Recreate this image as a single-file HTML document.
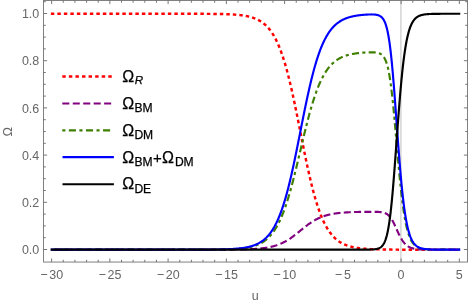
<!DOCTYPE html>
<html><head><meta charset="utf-8"><title>Omega plot</title>
<style>html,body{margin:0;padding:0;background:#fff;}body{width:469px;height:305px;overflow:hidden;position:relative;font-family:"Liberation Sans",sans-serif;}</style>
</head><body>
<svg width="469" height="305" viewBox="0 0 469 305" style="position:absolute;left:0;top:0;will-change:transform">
<line x1="400.9" x2="400.9" y1="0.5" y2="262.05" stroke="#cecece" stroke-width="1.3"/>
<g fill="none" stroke-width="2.15" stroke-linejoin="round">
<path d="M50.85,13.77 L51.99,13.77 L52.38,13.77 L52.77,13.77 L53.15,13.77 L53.54,13.77 L53.93,13.77 L54.32,13.77 L54.71,13.77 L55.10,13.77 L55.48,13.77 L55.87,13.77 L56.26,13.77 L56.65,13.77 L57.04,13.77 L57.43,13.77 L57.81,13.77 L58.20,13.77 L58.59,13.77 L58.98,13.77 L59.37,13.77 L59.75,13.77 L60.14,13.77 L60.53,13.77 L60.92,13.77 L61.31,13.77 L61.70,13.77 L62.08,13.77 L62.47,13.77 L62.86,13.77 L63.25,13.77 L63.64,13.77 L64.03,13.77 L64.42,13.77 L64.80,13.77 L65.19,13.77 L65.58,13.77 L65.97,13.77 L66.36,13.77 L66.75,13.77 L67.13,13.77 L67.52,13.77 L67.91,13.77 L68.30,13.77 L68.69,13.77 L69.08,13.77 L69.46,13.77 L69.85,13.77 L70.24,13.77 L70.63,13.77 L71.02,13.77 L71.41,13.77 L71.79,13.77 L72.18,13.77 L72.57,13.77 L72.96,13.77 L73.35,13.77 L73.73,13.77 L74.12,13.77 L74.51,13.77 L74.90,13.77 L75.29,13.77 L75.68,13.77 L76.07,13.77 L76.45,13.77 L76.84,13.77 L77.23,13.77 L77.62,13.77 L78.01,13.77 L78.40,13.77 L78.78,13.77 L79.17,13.77 L79.56,13.77 L79.95,13.77 L80.34,13.77 L80.72,13.77 L81.11,13.77 L81.50,13.77 L81.89,13.77 L82.28,13.77 L82.67,13.77 L83.05,13.77 L83.44,13.77 L83.83,13.77 L84.22,13.77 L84.61,13.77 L85.00,13.77 L85.38,13.77 L85.77,13.77 L86.16,13.77 L86.55,13.77 L86.94,13.77 L87.33,13.77 L87.72,13.77 L88.10,13.77 L88.49,13.77 L88.88,13.77 L89.27,13.77 L89.66,13.77 L90.05,13.77 L90.43,13.77 L90.82,13.77 L91.21,13.77 L91.60,13.77 L91.99,13.77 L92.38,13.77 L92.76,13.77 L93.15,13.77 L93.54,13.77 L93.93,13.77 L94.32,13.77 L94.70,13.77 L95.09,13.77 L95.48,13.77 L95.87,13.77 L96.26,13.77 L96.65,13.77 L97.03,13.77 L97.42,13.77 L97.81,13.77 L98.20,13.77 L98.59,13.77 L98.98,13.77 L99.37,13.77 L99.75,13.77 L100.14,13.77 L100.53,13.77 L100.92,13.77 L101.31,13.77 L101.70,13.77 L102.08,13.77 L102.47,13.77 L102.86,13.77 L103.25,13.77 L103.64,13.77 L104.03,13.77 L104.41,13.77 L104.80,13.77 L105.19,13.77 L105.58,13.77 L105.97,13.77 L106.35,13.77 L106.74,13.77 L107.13,13.77 L107.52,13.77 L107.91,13.77 L108.30,13.77 L108.68,13.77 L109.07,13.77 L109.46,13.77 L109.85,13.77 L110.24,13.77 L110.63,13.77 L111.02,13.77 L111.40,13.77 L111.79,13.77 L112.18,13.77 L112.57,13.77 L112.96,13.77 L113.35,13.77 L113.73,13.77 L114.12,13.77 L114.51,13.77 L114.90,13.77 L115.29,13.77 L115.68,13.77 L116.06,13.77 L116.45,13.77 L116.84,13.77 L117.23,13.77 L117.62,13.77 L118.00,13.77 L118.39,13.77 L118.78,13.77 L119.17,13.77 L119.56,13.77 L119.95,13.77 L120.33,13.77 L120.72,13.77 L121.11,13.77 L121.50,13.77 L121.89,13.77 L122.28,13.77 L122.67,13.77 L123.05,13.77 L123.44,13.77 L123.83,13.77 L124.22,13.77 L124.61,13.77 L125.00,13.77 L125.38,13.77 L125.77,13.77 L126.16,13.77 L126.55,13.77 L126.94,13.77 L127.33,13.77 L127.71,13.77 L128.10,13.77 L128.49,13.77 L128.88,13.77 L129.27,13.77 L129.66,13.77 L130.04,13.77 L130.43,13.77 L130.82,13.77 L131.21,13.77 L131.60,13.77 L131.98,13.77 L132.37,13.77 L132.76,13.77 L133.15,13.77 L133.54,13.77 L133.93,13.77 L134.32,13.77 L134.70,13.77 L135.09,13.77 L135.48,13.77 L135.87,13.77 L136.26,13.77 L136.65,13.77 L137.03,13.77 L137.42,13.77 L137.81,13.77 L138.20,13.77 L138.59,13.77 L138.97,13.77 L139.36,13.77 L139.75,13.77 L140.14,13.77 L140.53,13.77 L140.92,13.77 L141.31,13.77 L141.69,13.77 L142.08,13.77 L142.47,13.77 L142.86,13.77 L143.25,13.77 L143.63,13.77 L144.02,13.77 L144.41,13.77 L144.80,13.77 L145.19,13.77 L145.58,13.77 L145.97,13.77 L146.35,13.77 L146.74,13.77 L147.13,13.77 L147.52,13.77 L147.91,13.77 L148.30,13.77 L148.68,13.77 L149.07,13.77 L149.46,13.77 L149.85,13.77 L150.24,13.77 L150.62,13.77 L151.01,13.77 L151.40,13.77 L151.79,13.77 L152.18,13.77 L152.57,13.77 L152.95,13.77 L153.34,13.77 L153.73,13.77 L154.12,13.77 L154.51,13.77 L154.90,13.77 L155.28,13.77 L155.67,13.77 L156.06,13.77 L156.45,13.77 L156.84,13.77 L157.23,13.77 L157.62,13.77 L158.00,13.77 L158.39,13.77 L158.78,13.77 L159.17,13.77 L159.56,13.77 L159.95,13.77 L160.33,13.77 L160.72,13.77 L161.11,13.77 L161.50,13.77 L161.89,13.77 L162.28,13.77 L162.66,13.77 L163.05,13.77 L163.44,13.77 L163.83,13.77 L164.22,13.77 L164.60,13.77 L164.99,13.77 L165.38,13.77 L165.77,13.77 L166.16,13.77 L166.55,13.77 L166.94,13.77 L167.32,13.77 L167.71,13.77 L168.10,13.77 L168.49,13.77 L168.88,13.77 L169.27,13.77 L169.65,13.77 L170.04,13.77 L170.43,13.77 L170.82,13.77 L171.21,13.77 L171.60,13.77 L171.98,13.77 L172.37,13.77 L172.76,13.77 L173.15,13.77 L173.54,13.77 L173.93,13.77 L174.31,13.77 L174.70,13.77 L175.09,13.78 L175.48,13.78 L175.87,13.78 L176.25,13.78 L176.64,13.78 L177.03,13.78 L177.42,13.78 L177.81,13.78 L178.20,13.78 L178.58,13.78 L178.97,13.78 L179.36,13.78 L179.75,13.78 L180.14,13.78 L180.53,13.78 L180.92,13.78 L181.30,13.78 L181.69,13.78 L182.08,13.78 L182.47,13.78 L182.86,13.78 L183.25,13.78 L183.63,13.78 L184.02,13.78 L184.41,13.78 L184.80,13.78 L185.19,13.78 L185.57,13.78 L185.96,13.78 L186.35,13.78 L186.74,13.78 L187.13,13.78 L187.52,13.78 L187.91,13.79 L188.29,13.79 L188.68,13.79 L189.07,13.79 L189.46,13.79 L189.85,13.79 L190.23,13.79 L190.62,13.79 L191.01,13.79 L191.40,13.79 L191.79,13.79 L192.18,13.79 L192.57,13.79 L192.95,13.79 L193.34,13.79 L193.73,13.80 L194.12,13.80 L194.51,13.80 L194.90,13.80 L195.28,13.80 L195.67,13.80 L196.06,13.80 L196.45,13.80 L196.84,13.80 L197.22,13.80 L197.61,13.80 L198.00,13.81 L198.39,13.81 L198.78,13.81 L199.17,13.81 L199.55,13.81 L199.94,13.81 L200.33,13.81 L200.72,13.82 L201.11,13.82 L201.50,13.82 L201.88,13.82 L202.27,13.82 L202.66,13.82 L203.05,13.83 L203.44,13.83 L203.83,13.83 L204.22,13.83 L204.60,13.83 L204.99,13.84 L205.38,13.84 L205.77,13.84 L206.16,13.84 L206.54,13.85 L206.93,13.85 L207.32,13.85 L207.71,13.85 L208.10,13.86 L208.49,13.86 L208.88,13.86 L209.26,13.87 L209.65,13.87 L210.04,13.87 L210.43,13.88 L210.82,13.88 L211.20,13.88 L211.59,13.89 L211.98,13.89 L212.37,13.89 L212.76,13.90 L213.15,13.90 L213.53,13.91 L213.92,13.91 L214.31,13.92 L214.70,13.92 L215.09,13.93 L215.48,13.93 L215.87,13.94 L216.25,13.94 L216.64,13.95 L217.03,13.96 L217.42,13.96 L217.81,13.97 L218.19,13.97 L218.58,13.98 L218.97,13.99 L219.36,14.00 L219.75,14.00 L220.14,14.01 L220.53,14.02 L220.91,14.03 L221.30,14.04 L221.69,14.05 L222.08,14.06 L222.47,14.06 L222.85,14.07 L223.24,14.09 L223.63,14.10 L224.02,14.11 L224.41,14.12 L224.80,14.13 L225.19,14.14 L225.57,14.15 L225.96,14.17 L226.35,14.18 L226.74,14.20 L227.13,14.21 L227.51,14.22 L227.90,14.24 L228.29,14.26 L228.68,14.27 L229.07,14.29 L229.46,14.31 L229.84,14.32 L230.23,14.34 L230.62,14.36 L231.01,14.38 L231.40,14.40 L231.79,14.43 L232.18,14.45 L232.56,14.47 L232.95,14.49 L233.34,14.52 L233.73,14.54 L234.12,14.57 L234.50,14.60 L234.89,14.62 L235.28,14.65 L235.67,14.68 L236.06,14.71 L236.45,14.75 L236.84,14.78 L237.22,14.81 L237.61,14.85 L238.00,14.88 L238.39,14.92 L238.78,14.96 L239.17,15.00 L239.55,15.04 L239.94,15.09 L240.33,15.13 L240.72,15.18 L241.11,15.22 L241.50,15.27 L241.88,15.32 L242.27,15.38 L242.66,15.43 L243.05,15.49 L243.44,15.54 L243.82,15.60 L244.21,15.66 L244.60,15.73 L244.99,15.79 L245.38,15.86 L245.77,15.93 L246.16,16.00 L246.54,16.08 L246.93,16.16 L247.32,16.24 L247.71,16.32 L248.10,16.40 L248.48,16.49 L248.87,16.58 L249.26,16.68 L249.65,16.78 L250.04,16.88 L250.43,16.98 L250.82,17.09 L251.20,17.20 L251.59,17.31 L251.98,17.43 L252.37,17.55 L252.76,17.68 L253.15,17.81 L253.53,17.94 L253.92,18.08 L254.31,18.23 L254.70,18.37 L255.09,18.53 L255.47,18.69 L255.86,18.85 L256.25,19.02 L256.64,19.19 L257.03,19.37 L257.42,19.55 L257.81,19.75 L258.19,19.94 L258.58,20.15 L258.97,20.36 L259.36,20.57 L259.75,20.80 L260.13,21.03 L260.52,21.27 L260.91,21.51 L261.30,21.77 L261.69,22.03 L262.08,22.30 L262.47,22.58 L262.85,22.86 L263.24,23.16 L263.63,23.46 L264.02,23.78 L264.41,24.10 L264.80,24.44 L265.18,24.78 L265.57,25.14 L265.96,25.50 L266.35,25.88 L266.74,26.27 L267.12,26.67 L267.51,27.08 L267.90,27.51 L268.29,27.94 L268.68,28.40 L269.07,28.86 L269.45,29.34 L269.84,29.83 L270.23,30.33 L270.62,30.86 L271.01,31.39 L271.40,31.94 L271.79,32.51 L272.17,33.09 L272.56,33.69 L272.95,34.31 L273.34,34.94 L273.73,35.59 L274.12,36.26 L274.50,36.95 L274.89,37.66 L275.28,38.38 L275.67,39.13 L276.06,39.89 L276.45,40.67 L276.83,41.48 L277.22,42.31 L277.61,43.15 L278.00,44.02 L278.39,44.91 L278.78,45.82 L279.16,46.76 L279.55,47.71 L279.94,48.69 L280.33,49.70 L280.72,50.72 L281.11,51.78 L281.49,52.85 L281.88,53.95 L282.27,55.07 L282.66,56.22 L283.05,57.39 L283.44,58.59 L283.82,59.81 L284.21,61.06 L284.60,62.33 L284.99,63.63 L285.38,64.96 L285.77,66.30 L286.15,67.68 L286.54,69.08 L286.93,70.50 L287.32,71.95 L287.71,73.42 L288.10,74.92 L288.48,76.44 L288.87,77.99 L289.26,79.56 L289.65,81.15 L290.04,82.77 L290.43,84.41 L290.81,86.07 L291.20,87.75 L291.59,89.45 L291.98,91.18 L292.37,92.92 L292.75,94.68 L293.14,96.46 L293.53,98.26 L293.92,100.08 L294.31,101.91 L294.70,103.76 L295.08,105.62 L295.47,107.50 L295.86,109.39 L296.25,111.29 L296.64,113.20 L297.03,115.12 L297.42,117.05 L297.80,118.99 L298.19,120.94 L298.58,122.89 L298.97,124.85 L299.36,126.81 L299.75,128.77 L300.13,130.74 L300.52,132.70 L300.91,134.67 L301.30,136.63 L301.69,138.59 L302.07,140.55 L302.46,142.50 L302.85,144.45 L303.24,146.39 L303.63,148.32 L304.02,150.24 L304.41,152.15 L304.79,154.05 L305.18,155.94 L305.57,157.82 L305.96,159.68 L306.35,161.53 L306.74,163.36 L307.12,165.18 L307.51,166.98 L307.90,168.76 L308.29,170.52 L308.68,172.26 L309.07,173.99 L309.45,175.69 L309.84,177.37 L310.23,179.03 L310.62,180.67 L311.01,182.29 L311.40,183.88 L311.78,185.45 L312.17,187.00 L312.56,188.52 L312.95,190.02 L313.34,191.49 L313.73,192.94 L314.11,194.36 L314.50,195.76 L314.89,197.14 L315.28,198.48 L315.67,199.81 L316.06,201.11 L316.44,202.38 L316.83,203.63 L317.22,204.85 L317.61,206.05 L318.00,207.22 L318.38,208.37 L318.77,209.49 L319.16,210.59 L319.55,211.66 L319.94,212.72 L320.33,213.74 L320.72,214.75 L321.10,215.73 L321.49,216.68 L321.88,217.62 L322.27,218.53 L322.66,219.42 L323.05,220.29 L323.43,221.13 L323.82,221.96 L324.21,222.77 L324.60,223.55 L324.99,224.31 L325.38,225.06 L325.76,225.78 L326.15,226.49 L326.54,227.18 L326.93,227.85 L327.32,228.50 L327.71,229.13 L328.09,229.75 L328.48,230.35 L328.87,230.93 L329.26,231.50 L329.65,232.05 L330.04,232.58 L330.42,233.11 L330.81,233.61 L331.20,234.10 L331.59,234.58 L331.98,235.04 L332.37,235.50 L332.75,235.93 L333.14,236.36 L333.53,236.77 L333.92,237.17 L334.31,237.56 L334.70,237.94 L335.08,238.30 L335.47,238.66 L335.86,239.00 L336.25,239.34 L336.64,239.66 L337.03,239.98 L337.41,240.28 L337.80,240.58 L338.19,240.86 L338.58,241.14 L338.97,241.41 L339.36,241.67 L339.74,241.93 L340.13,242.17 L340.52,242.41 L340.91,242.64 L341.30,242.87 L341.69,243.08 L342.07,243.29 L342.46,243.50 L342.85,243.69 L343.24,243.89 L343.63,244.07 L344.02,244.25 L344.40,244.42 L344.79,244.59 L345.18,244.75 L345.57,244.91 L345.96,245.07 L346.35,245.21 L346.73,245.36 L347.12,245.50 L347.51,245.63 L347.90,245.76 L348.29,245.89 L348.68,246.01 L349.06,246.13 L349.45,246.24 L349.84,246.35 L350.23,246.46 L350.62,246.56 L351.00,246.66 L351.39,246.76 L351.78,246.86 L352.17,246.95 L352.56,247.04 L352.95,247.12 L353.34,247.20 L353.72,247.28 L354.11,247.36 L354.50,247.44 L354.89,247.51 L355.28,247.58 L355.67,247.65 L356.05,247.71 L356.44,247.78 L356.83,247.84 L357.22,247.90 L357.61,247.95 L358.00,248.01 L358.38,248.06 L358.77,248.12 L359.16,248.17 L359.55,248.22 L359.94,248.26 L360.33,248.31 L360.71,248.35 L361.10,248.40 L361.49,248.44 L361.88,248.48 L362.27,248.52 L362.66,248.56 L363.04,248.59 L363.43,248.63 L363.82,248.66 L364.21,248.69 L364.60,248.73 L364.99,248.76 L365.37,248.79 L365.76,248.82 L366.15,248.84 L366.54,248.87 L366.93,248.90 L367.31,248.92 L367.70,248.95 L368.09,248.97 L368.48,248.99 L368.87,249.01 L369.26,249.04 L369.65,249.06 L370.03,249.08 L370.42,249.10 L370.81,249.12 L371.20,249.13 L371.59,249.15 L371.98,249.17 L372.36,249.18 L372.75,249.20 L373.14,249.22 L373.53,249.23 L373.92,249.25 L374.31,249.26 L374.69,249.27 L375.08,249.29 L375.47,249.30 L375.86,249.31 L376.25,249.32 L376.63,249.33 L377.02,249.35 L377.41,249.36 L377.80,249.37 L378.19,249.38 L378.58,249.39 L378.97,249.40 L379.35,249.40 L379.74,249.41 L380.13,249.42 L380.52,249.43 L380.91,249.44 L381.30,249.45 L381.68,249.45 L382.07,249.46 L382.46,249.47 L382.85,249.48 L383.24,249.48 L383.63,249.49 L384.01,249.50 L384.40,249.50 L384.79,249.51 L385.18,249.51 L385.57,249.52 L385.96,249.53 L386.34,249.53 L386.73,249.54 L387.12,249.54 L387.51,249.55 L387.90,249.55 L388.29,249.56 L388.67,249.56 L389.06,249.57 L389.45,249.57 L389.84,249.58 L390.23,249.58 L390.62,249.58 L391.00,249.59 L391.39,249.59 L391.78,249.60 L392.17,249.60 L392.56,249.60 L392.95,249.61 L393.33,249.61 L393.72,249.62 L394.11,249.62 L394.50,249.62 L394.89,249.63 L395.28,249.63 L395.66,249.63 L396.05,249.63 L396.44,249.64 L396.83,249.64 L397.22,249.64 L397.61,249.64 L397.99,249.65 L398.38,249.65 L398.77,249.65 L399.16,249.65 L399.55,249.65 L399.94,249.65 L400.32,249.66 L400.71,249.66 L401.10,249.66 L401.49,249.66 L401.88,249.66 L402.26,249.66 L402.65,249.66 L403.04,249.66 L403.43,249.66 L403.82,249.66 L404.21,249.66 L404.60,249.66 L404.98,249.67 L405.37,249.67 L405.76,249.67 L406.15,249.67 L406.54,249.67 L406.93,249.67 L407.31,249.67 L407.70,249.67 L408.09,249.67 L408.48,249.67 L408.87,249.67 L409.26,249.67 L409.64,249.67 L410.03,249.67 L410.42,249.67 L410.81,249.67 L411.20,249.67 L411.59,249.67 L411.97,249.67 L412.36,249.67 L412.75,249.67 L413.14,249.67 L413.53,249.67 L413.92,249.67 L414.30,249.67 L414.69,249.67 L415.08,249.67 L415.47,249.67 L415.86,249.67 L416.25,249.67 L416.63,249.67 L417.02,249.67 L417.41,249.67 L417.80,249.67 L418.19,249.67 L418.58,249.67 L418.96,249.67 L419.35,249.67 L419.74,249.67 L420.13,249.67 L420.52,249.67 L420.91,249.67 L421.29,249.67 L421.68,249.67 L422.07,249.67 L422.46,249.67 L422.85,249.67 L423.24,249.67 L423.62,249.67 L424.01,249.67 L424.40,249.67 L424.79,249.67 L425.18,249.67 L425.57,249.67 L425.95,249.67 L426.34,249.67 L426.73,249.67 L427.12,249.67 L427.51,249.67 L427.89,249.67 L428.28,249.67 L428.67,249.67 L429.06,249.67 L429.45,249.67 L429.84,249.67 L430.23,249.67 L430.61,249.67 L431.00,249.67 L431.39,249.67 L431.78,249.67 L432.17,249.67 L432.56,249.67 L432.94,249.67 L433.33,249.67 L433.72,249.67 L434.11,249.67 L434.50,249.67 L434.88,249.67 L435.27,249.67 L435.66,249.67 L436.05,249.67 L436.44,249.67 L436.83,249.67 L437.22,249.67 L437.60,249.67 L437.99,249.67 L438.38,249.67 L438.77,249.67 L439.16,249.67 L439.55,249.67 L439.93,249.67 L440.32,249.67 L440.71,249.67 L441.10,249.67 L441.49,249.67 L441.88,249.67 L442.26,249.67 L442.65,249.67 L443.04,249.67 L443.43,249.67 L443.82,249.67 L444.21,249.67 L444.59,249.67 L444.98,249.67 L445.37,249.67 L445.76,249.67 L446.15,249.67 L446.54,249.67 L446.92,249.67 L447.31,249.67 L447.70,249.67 L448.09,249.67 L448.48,249.67 L448.87,249.67 L449.25,249.67 L449.64,249.67 L450.03,249.67 L450.42,249.67 L450.81,249.67 L451.19,249.67 L451.58,249.67 L451.97,249.67 L452.36,249.67 L452.75,249.67 L453.14,249.67 L453.53,249.67 L453.91,249.67 L454.30,249.67 L454.69,249.67 L455.08,249.67 L455.47,249.67 L455.86,249.67 L456.24,249.67 L456.63,249.67 L457.02,249.67 L457.41,249.67 L457.80,249.67 L458.19,249.67 L458.57,249.67 L458.96,249.67 L460.10,249.67" stroke="#ff0000" stroke-width="2.45" stroke-dasharray="3.45 3.05" stroke-dashoffset="0"/>
<path d="M51.10,249.67 L51.99,249.67 L52.38,249.67 L52.77,249.67 L53.15,249.67 L53.54,249.67 L53.93,249.67 L54.32,249.67 L54.71,249.67 L55.10,249.67 L55.48,249.67 L55.87,249.67 L56.26,249.67 L56.65,249.67 L57.04,249.67 L57.43,249.67 L57.81,249.67 L58.20,249.67 L58.59,249.67 L58.98,249.67 L59.37,249.67 L59.75,249.67 L60.14,249.67 L60.53,249.67 L60.92,249.67 L61.31,249.67 L61.70,249.67 L62.08,249.67 L62.47,249.67 L62.86,249.67 L63.25,249.67 L63.64,249.67 L64.03,249.67 L64.42,249.67 L64.80,249.67 L65.19,249.67 L65.58,249.67 L65.97,249.67 L66.36,249.67 L66.75,249.67 L67.13,249.67 L67.52,249.67 L67.91,249.67 L68.30,249.67 L68.69,249.67 L69.08,249.67 L69.46,249.67 L69.85,249.67 L70.24,249.67 L70.63,249.67 L71.02,249.67 L71.41,249.67 L71.79,249.67 L72.18,249.67 L72.57,249.67 L72.96,249.67 L73.35,249.67 L73.73,249.67 L74.12,249.67 L74.51,249.67 L74.90,249.67 L75.29,249.67 L75.68,249.67 L76.07,249.67 L76.45,249.67 L76.84,249.67 L77.23,249.67 L77.62,249.67 L78.01,249.67 L78.40,249.67 L78.78,249.67 L79.17,249.67 L79.56,249.67 L79.95,249.67 L80.34,249.67 L80.72,249.67 L81.11,249.67 L81.50,249.67 L81.89,249.67 L82.28,249.67 L82.67,249.67 L83.05,249.67 L83.44,249.67 L83.83,249.67 L84.22,249.67 L84.61,249.67 L85.00,249.67 L85.38,249.67 L85.77,249.67 L86.16,249.67 L86.55,249.67 L86.94,249.67 L87.33,249.67 L87.72,249.67 L88.10,249.67 L88.49,249.67 L88.88,249.67 L89.27,249.67 L89.66,249.67 L90.05,249.67 L90.43,249.67 L90.82,249.67 L91.21,249.67 L91.60,249.67 L91.99,249.67 L92.38,249.67 L92.76,249.67 L93.15,249.67 L93.54,249.67 L93.93,249.67 L94.32,249.67 L94.70,249.67 L95.09,249.67 L95.48,249.67 L95.87,249.67 L96.26,249.67 L96.65,249.67 L97.03,249.67 L97.42,249.67 L97.81,249.67 L98.20,249.67 L98.59,249.67 L98.98,249.67 L99.37,249.67 L99.75,249.67 L100.14,249.67 L100.53,249.67 L100.92,249.67 L101.31,249.67 L101.70,249.67 L102.08,249.67 L102.47,249.67 L102.86,249.67 L103.25,249.67 L103.64,249.67 L104.03,249.67 L104.41,249.67 L104.80,249.67 L105.19,249.67 L105.58,249.67 L105.97,249.67 L106.35,249.67 L106.74,249.67 L107.13,249.67 L107.52,249.67 L107.91,249.67 L108.30,249.67 L108.68,249.67 L109.07,249.67 L109.46,249.67 L109.85,249.67 L110.24,249.67 L110.63,249.67 L111.02,249.67 L111.40,249.67 L111.79,249.67 L112.18,249.67 L112.57,249.67 L112.96,249.67 L113.35,249.67 L113.73,249.67 L114.12,249.67 L114.51,249.67 L114.90,249.67 L115.29,249.67 L115.68,249.67 L116.06,249.67 L116.45,249.67 L116.84,249.67 L117.23,249.67 L117.62,249.67 L118.00,249.67 L118.39,249.67 L118.78,249.67 L119.17,249.67 L119.56,249.67 L119.95,249.67 L120.33,249.67 L120.72,249.67 L121.11,249.67 L121.50,249.67 L121.89,249.67 L122.28,249.67 L122.67,249.67 L123.05,249.67 L123.44,249.67 L123.83,249.67 L124.22,249.67 L124.61,249.67 L125.00,249.67 L125.38,249.67 L125.77,249.67 L126.16,249.67 L126.55,249.67 L126.94,249.67 L127.33,249.67 L127.71,249.67 L128.10,249.67 L128.49,249.67 L128.88,249.67 L129.27,249.67 L129.66,249.67 L130.04,249.67 L130.43,249.67 L130.82,249.67 L131.21,249.67 L131.60,249.67 L131.98,249.67 L132.37,249.67 L132.76,249.67 L133.15,249.67 L133.54,249.67 L133.93,249.67 L134.32,249.67 L134.70,249.67 L135.09,249.67 L135.48,249.67 L135.87,249.67 L136.26,249.67 L136.65,249.67 L137.03,249.67 L137.42,249.67 L137.81,249.67 L138.20,249.67 L138.59,249.67 L138.97,249.67 L139.36,249.67 L139.75,249.67 L140.14,249.67 L140.53,249.67 L140.92,249.67 L141.31,249.67 L141.69,249.67 L142.08,249.67 L142.47,249.67 L142.86,249.67 L143.25,249.67 L143.63,249.67 L144.02,249.67 L144.41,249.67 L144.80,249.67 L145.19,249.67 L145.58,249.67 L145.97,249.67 L146.35,249.67 L146.74,249.67 L147.13,249.67 L147.52,249.67 L147.91,249.67 L148.30,249.67 L148.68,249.67 L149.07,249.67 L149.46,249.67 L149.85,249.67 L150.24,249.67 L150.62,249.67 L151.01,249.67 L151.40,249.67 L151.79,249.67 L152.18,249.67 L152.57,249.67 L152.95,249.67 L153.34,249.67 L153.73,249.67 L154.12,249.67 L154.51,249.67 L154.90,249.67 L155.28,249.67 L155.67,249.67 L156.06,249.67 L156.45,249.67 L156.84,249.67 L157.23,249.67 L157.62,249.67 L158.00,249.67 L158.39,249.67 L158.78,249.67 L159.17,249.67 L159.56,249.67 L159.95,249.67 L160.33,249.67 L160.72,249.67 L161.11,249.67 L161.50,249.67 L161.89,249.67 L162.28,249.67 L162.66,249.67 L163.05,249.67 L163.44,249.67 L163.83,249.67 L164.22,249.67 L164.60,249.67 L164.99,249.67 L165.38,249.67 L165.77,249.67 L166.16,249.67 L166.55,249.67 L166.94,249.67 L167.32,249.67 L167.71,249.67 L168.10,249.67 L168.49,249.67 L168.88,249.67 L169.27,249.67 L169.65,249.67 L170.04,249.67 L170.43,249.67 L170.82,249.67 L171.21,249.67 L171.60,249.67 L171.98,249.67 L172.37,249.67 L172.76,249.67 L173.15,249.67 L173.54,249.67 L173.93,249.67 L174.31,249.67 L174.70,249.67 L175.09,249.67 L175.48,249.67 L175.87,249.67 L176.25,249.67 L176.64,249.67 L177.03,249.67 L177.42,249.67 L177.81,249.67 L178.20,249.67 L178.58,249.67 L178.97,249.67 L179.36,249.67 L179.75,249.67 L180.14,249.67 L180.53,249.67 L180.92,249.67 L181.30,249.67 L181.69,249.67 L182.08,249.67 L182.47,249.67 L182.86,249.67 L183.25,249.67 L183.63,249.67 L184.02,249.67 L184.41,249.67 L184.80,249.67 L185.19,249.67 L185.57,249.67 L185.96,249.67 L186.35,249.67 L186.74,249.67 L187.13,249.67 L187.52,249.67 L187.91,249.67 L188.29,249.67 L188.68,249.67 L189.07,249.67 L189.46,249.67 L189.85,249.67 L190.23,249.67 L190.62,249.67 L191.01,249.67 L191.40,249.67 L191.79,249.67 L192.18,249.67 L192.57,249.67 L192.95,249.67 L193.34,249.67 L193.73,249.67 L194.12,249.67 L194.51,249.67 L194.90,249.67 L195.28,249.67 L195.67,249.67 L196.06,249.67 L196.45,249.66 L196.84,249.66 L197.22,249.66 L197.61,249.66 L198.00,249.66 L198.39,249.66 L198.78,249.66 L199.17,249.66 L199.55,249.66 L199.94,249.66 L200.33,249.66 L200.72,249.66 L201.11,249.66 L201.50,249.66 L201.88,249.66 L202.27,249.66 L202.66,249.66 L203.05,249.66 L203.44,249.66 L203.83,249.66 L204.22,249.66 L204.60,249.66 L204.99,249.66 L205.38,249.66 L205.77,249.66 L206.16,249.66 L206.54,249.66 L206.93,249.66 L207.32,249.66 L207.71,249.66 L208.10,249.66 L208.49,249.66 L208.88,249.66 L209.26,249.65 L209.65,249.65 L210.04,249.65 L210.43,249.65 L210.82,249.65 L211.20,249.65 L211.59,249.65 L211.98,249.65 L212.37,249.65 L212.76,249.65 L213.15,249.65 L213.53,249.65 L213.92,249.65 L214.31,249.65 L214.70,249.65 L215.09,249.64 L215.48,249.64 L215.87,249.64 L216.25,249.64 L216.64,249.64 L217.03,249.64 L217.42,249.64 L217.81,249.64 L218.19,249.64 L218.58,249.64 L218.97,249.63 L219.36,249.63 L219.75,249.63 L220.14,249.63 L220.53,249.63 L220.91,249.63 L221.30,249.63 L221.69,249.63 L222.08,249.62 L222.47,249.62 L222.85,249.62 L223.24,249.62 L223.63,249.62 L224.02,249.62 L224.41,249.61 L224.80,249.61 L225.19,249.61 L225.57,249.61 L225.96,249.61 L226.35,249.60 L226.74,249.60 L227.13,249.60 L227.51,249.60 L227.90,249.59 L228.29,249.59 L228.68,249.59 L229.07,249.59 L229.46,249.58 L229.84,249.58 L230.23,249.58 L230.62,249.57 L231.01,249.57 L231.40,249.57 L231.79,249.56 L232.18,249.56 L232.56,249.56 L232.95,249.55 L233.34,249.55 L233.73,249.55 L234.12,249.54 L234.50,249.54 L234.89,249.53 L235.28,249.53 L235.67,249.52 L236.06,249.52 L236.45,249.51 L236.84,249.51 L237.22,249.50 L237.61,249.50 L238.00,249.49 L238.39,249.48 L238.78,249.48 L239.17,249.47 L239.55,249.47 L239.94,249.46 L240.33,249.45 L240.72,249.44 L241.11,249.44 L241.50,249.43 L241.88,249.42 L242.27,249.41 L242.66,249.40 L243.05,249.39 L243.44,249.38 L243.82,249.37 L244.21,249.37 L244.60,249.35 L244.99,249.34 L245.38,249.33 L245.77,249.32 L246.16,249.31 L246.54,249.30 L246.93,249.29 L247.32,249.27 L247.71,249.26 L248.10,249.25 L248.48,249.23 L248.87,249.22 L249.26,249.20 L249.65,249.19 L250.04,249.17 L250.43,249.15 L250.82,249.14 L251.20,249.12 L251.59,249.10 L251.98,249.08 L252.37,249.06 L252.76,249.04 L253.15,249.02 L253.53,249.00 L253.92,248.98 L254.31,248.95 L254.70,248.93 L255.09,248.90 L255.47,248.88 L255.86,248.85 L256.25,248.83 L256.64,248.80 L257.03,248.77 L257.42,248.74 L257.81,248.71 L258.19,248.68 L258.58,248.64 L258.97,248.61 L259.36,248.57 L259.75,248.54 L260.13,248.50 L260.52,248.46 L260.91,248.42 L261.30,248.38 L261.69,248.34 L262.08,248.30 L262.47,248.25 L262.85,248.21 L263.24,248.16 L263.63,248.11 L264.02,248.06 L264.41,248.01 L264.80,247.95 L265.18,247.90 L265.57,247.84 L265.96,247.78 L266.35,247.72 L266.74,247.66 L267.12,247.59 L267.51,247.53 L267.90,247.46 L268.29,247.39 L268.68,247.32 L269.07,247.24 L269.45,247.16 L269.84,247.08 L270.23,247.00 L270.62,246.92 L271.01,246.83 L271.40,246.74 L271.79,246.65 L272.17,246.56 L272.56,246.46 L272.95,246.36 L273.34,246.26 L273.73,246.16 L274.12,246.05 L274.50,245.94 L274.89,245.82 L275.28,245.71 L275.67,245.59 L276.06,245.46 L276.45,245.34 L276.83,245.21 L277.22,245.08 L277.61,244.94 L278.00,244.80 L278.39,244.66 L278.78,244.51 L279.16,244.36 L279.55,244.20 L279.94,244.05 L280.33,243.89 L280.72,243.72 L281.11,243.55 L281.49,243.38 L281.88,243.20 L282.27,243.02 L282.66,242.84 L283.05,242.65 L283.44,242.45 L283.82,242.26 L284.21,242.06 L284.60,241.85 L284.99,241.64 L285.38,241.43 L285.77,241.21 L286.15,240.99 L286.54,240.77 L286.93,240.54 L287.32,240.30 L287.71,240.07 L288.10,239.82 L288.48,239.58 L288.87,239.33 L289.26,239.08 L289.65,238.82 L290.04,238.56 L290.43,238.30 L290.81,238.03 L291.20,237.76 L291.59,237.49 L291.98,237.21 L292.37,236.93 L292.75,236.64 L293.14,236.36 L293.53,236.07 L293.92,235.77 L294.31,235.48 L294.70,235.18 L295.08,234.88 L295.47,234.58 L295.86,234.28 L296.25,233.97 L296.64,233.66 L297.03,233.35 L297.42,233.04 L297.80,232.73 L298.19,232.42 L298.58,232.10 L298.97,231.79 L299.36,231.47 L299.75,231.15 L300.13,230.84 L300.52,230.52 L300.91,230.21 L301.30,229.89 L301.69,229.57 L302.07,229.26 L302.46,228.94 L302.85,228.63 L303.24,228.32 L303.63,228.01 L304.02,227.70 L304.41,227.39 L304.79,227.08 L305.18,226.78 L305.57,226.48 L305.96,226.18 L306.35,225.88 L306.74,225.59 L307.12,225.29 L307.51,225.00 L307.90,224.72 L308.29,224.43 L308.68,224.15 L309.07,223.87 L309.45,223.60 L309.84,223.33 L310.23,223.06 L310.62,222.80 L311.01,222.54 L311.40,222.28 L311.78,222.03 L312.17,221.78 L312.56,221.54 L312.95,221.29 L313.34,221.06 L313.73,220.82 L314.11,220.59 L314.50,220.37 L314.89,220.15 L315.28,219.93 L315.67,219.72 L316.06,219.51 L316.44,219.30 L316.83,219.10 L317.22,218.91 L317.61,218.71 L318.00,218.52 L318.38,218.34 L318.77,218.16 L319.16,217.98 L319.55,217.81 L319.94,217.64 L320.33,217.47 L320.72,217.31 L321.10,217.16 L321.49,217.00 L321.88,216.85 L322.27,216.70 L322.66,216.56 L323.05,216.42 L323.43,216.28 L323.82,216.15 L324.21,216.02 L324.60,215.90 L324.99,215.77 L325.38,215.65 L325.76,215.54 L326.15,215.42 L326.54,215.31 L326.93,215.20 L327.32,215.10 L327.71,215.00 L328.09,214.90 L328.48,214.80 L328.87,214.71 L329.26,214.62 L329.65,214.53 L330.04,214.44 L330.42,214.36 L330.81,214.28 L331.20,214.20 L331.59,214.12 L331.98,214.04 L332.37,213.97 L332.75,213.90 L333.14,213.83 L333.53,213.77 L333.92,213.70 L334.31,213.64 L334.70,213.58 L335.08,213.52 L335.47,213.46 L335.86,213.41 L336.25,213.35 L336.64,213.30 L337.03,213.25 L337.41,213.20 L337.80,213.15 L338.19,213.11 L338.58,213.06 L338.97,213.02 L339.36,212.98 L339.74,212.94 L340.13,212.90 L340.52,212.86 L340.91,212.82 L341.30,212.79 L341.69,212.75 L342.07,212.72 L342.46,212.68 L342.85,212.65 L343.24,212.62 L343.63,212.59 L344.02,212.56 L344.40,212.53 L344.79,212.51 L345.18,212.48 L345.57,212.46 L345.96,212.43 L346.35,212.41 L346.73,212.38 L347.12,212.36 L347.51,212.34 L347.90,212.32 L348.29,212.30 L348.68,212.28 L349.06,212.26 L349.45,212.24 L349.84,212.22 L350.23,212.21 L350.62,212.19 L351.00,212.17 L351.39,212.16 L351.78,212.14 L352.17,212.13 L352.56,212.11 L352.95,212.10 L353.34,212.09 L353.72,212.07 L354.11,212.06 L354.50,212.05 L354.89,212.04 L355.28,212.03 L355.67,212.02 L356.05,212.01 L356.44,212.00 L356.83,211.99 L357.22,211.98 L357.61,211.97 L358.00,211.96 L358.38,211.95 L358.77,211.94 L359.16,211.93 L359.55,211.92 L359.94,211.92 L360.33,211.91 L360.71,211.90 L361.10,211.90 L361.49,211.89 L361.88,211.88 L362.27,211.88 L362.66,211.87 L363.04,211.87 L363.43,211.86 L363.82,211.85 L364.21,211.85 L364.60,211.85 L364.99,211.84 L365.37,211.84 L365.76,211.83 L366.15,211.83 L366.54,211.82 L366.93,211.82 L367.31,211.82 L367.70,211.81 L368.09,211.81 L368.48,211.81 L368.87,211.81 L369.26,211.80 L369.65,211.80 L370.03,211.80 L370.42,211.80 L370.81,211.80 L371.20,211.80 L371.59,211.80 L371.98,211.80 L372.36,211.80 L372.75,211.80 L373.14,211.80 L373.53,211.81 L373.92,211.81 L374.31,211.81 L374.69,211.82 L375.08,211.82 L375.47,211.83 L375.86,211.84 L376.25,211.85 L376.63,211.86 L377.02,211.87 L377.41,211.89 L377.80,211.90 L378.19,211.92 L378.58,211.94 L378.97,211.97 L379.35,211.99 L379.74,212.03 L380.13,212.06 L380.52,212.10 L380.91,212.14 L381.30,212.19 L381.68,212.25 L382.07,212.31 L382.46,212.38 L382.85,212.46 L383.24,212.55 L383.63,212.65 L384.01,212.76 L384.40,212.88 L384.79,213.02 L385.18,213.17 L385.57,213.34 L385.96,213.52 L386.34,213.73 L386.73,213.96 L387.12,214.21 L387.51,214.48 L387.90,214.78 L388.29,215.11 L388.67,215.46 L389.06,215.85 L389.45,216.27 L389.84,216.72 L390.23,217.21 L390.62,217.72 L391.00,218.28 L391.39,218.86 L391.78,219.48 L392.17,220.14 L392.56,220.82 L392.95,221.54 L393.33,222.28 L393.72,223.05 L394.11,223.84 L394.50,224.65 L394.89,225.47 L395.28,226.31 L395.66,227.16 L396.05,228.02 L396.44,228.88 L396.83,229.74 L397.22,230.60 L397.61,231.45 L397.99,232.29 L398.38,233.12 L398.77,233.93 L399.16,234.73 L399.55,235.51 L399.94,236.26 L400.32,237.00 L400.71,237.71 L401.10,238.40 L401.49,239.06 L401.88,239.69 L402.26,240.30 L402.65,240.88 L403.04,241.43 L403.43,241.96 L403.82,242.45 L404.21,242.93 L404.60,243.38 L404.98,243.80 L405.37,244.20 L405.76,244.57 L406.15,244.93 L406.54,245.26 L406.93,245.57 L407.31,245.86 L407.70,246.13 L408.09,246.39 L408.48,246.63 L408.87,246.85 L409.26,247.06 L409.64,247.25 L410.03,247.43 L410.42,247.59 L410.81,247.75 L411.20,247.89 L411.59,248.03 L411.97,248.15 L412.36,248.27 L412.75,248.37 L413.14,248.47 L413.53,248.56 L413.92,248.65 L414.30,248.73 L414.69,248.80 L415.08,248.86 L415.47,248.93 L415.86,248.98 L416.25,249.04 L416.63,249.09 L417.02,249.13 L417.41,249.17 L417.80,249.21 L418.19,249.25 L418.58,249.28 L418.96,249.31 L419.35,249.34 L419.74,249.36 L420.13,249.39 L420.52,249.41 L420.91,249.43 L421.29,249.45 L421.68,249.47 L422.07,249.48 L422.46,249.50 L422.85,249.51 L423.24,249.52 L423.62,249.53 L424.01,249.54 L424.40,249.55 L424.79,249.56 L425.18,249.57 L425.57,249.58 L425.95,249.59 L426.34,249.59 L426.73,249.60 L427.12,249.60 L427.51,249.61 L427.89,249.61 L428.28,249.62 L428.67,249.62 L429.06,249.63 L429.45,249.63 L429.84,249.63 L430.23,249.64 L430.61,249.64 L431.00,249.64 L431.39,249.64 L431.78,249.65 L432.17,249.65 L432.56,249.65 L432.94,249.65 L433.33,249.65 L433.72,249.65 L434.11,249.65 L434.50,249.66 L434.88,249.66 L435.27,249.66 L435.66,249.66 L436.05,249.66 L436.44,249.66 L436.83,249.66 L437.22,249.66 L437.60,249.66 L437.99,249.66 L438.38,249.66 L438.77,249.66 L439.16,249.66 L439.55,249.67 L439.93,249.67 L440.32,249.67 L440.71,249.67 L441.10,249.67 L441.49,249.67 L441.88,249.67 L442.26,249.67 L442.65,249.67 L443.04,249.67 L443.43,249.67 L443.82,249.67 L444.21,249.67 L444.59,249.67 L444.98,249.67 L445.37,249.67 L445.76,249.67 L446.15,249.67 L446.54,249.67 L446.92,249.67 L447.31,249.67 L447.70,249.67 L448.09,249.67 L448.48,249.67 L448.87,249.67 L449.25,249.67 L449.64,249.67 L450.03,249.67 L450.42,249.67 L450.81,249.67 L451.19,249.67 L451.58,249.67 L451.97,249.67 L452.36,249.67 L452.75,249.67 L453.14,249.67 L453.53,249.67 L453.91,249.67 L454.30,249.67 L454.69,249.67 L455.08,249.67 L455.47,249.67 L455.86,249.67 L456.24,249.67 L456.63,249.67 L457.02,249.67 L457.41,249.67 L457.80,249.67 L458.19,249.67 L458.57,249.67 L458.96,249.67 L459.85,249.67" stroke="#800080" stroke-dasharray="7.0 3.3" stroke-dashoffset="6.96"/>
<path d="M51.10,249.67 L51.99,249.67 L52.38,249.67 L52.77,249.67 L53.15,249.67 L53.54,249.67 L53.93,249.67 L54.32,249.67 L54.71,249.67 L55.10,249.67 L55.48,249.67 L55.87,249.67 L56.26,249.67 L56.65,249.67 L57.04,249.67 L57.43,249.67 L57.81,249.67 L58.20,249.67 L58.59,249.67 L58.98,249.67 L59.37,249.67 L59.75,249.67 L60.14,249.67 L60.53,249.67 L60.92,249.67 L61.31,249.67 L61.70,249.67 L62.08,249.67 L62.47,249.67 L62.86,249.67 L63.25,249.67 L63.64,249.67 L64.03,249.67 L64.42,249.67 L64.80,249.67 L65.19,249.67 L65.58,249.67 L65.97,249.67 L66.36,249.67 L66.75,249.67 L67.13,249.67 L67.52,249.67 L67.91,249.67 L68.30,249.67 L68.69,249.67 L69.08,249.67 L69.46,249.67 L69.85,249.67 L70.24,249.67 L70.63,249.67 L71.02,249.67 L71.41,249.67 L71.79,249.67 L72.18,249.67 L72.57,249.67 L72.96,249.67 L73.35,249.67 L73.73,249.67 L74.12,249.67 L74.51,249.67 L74.90,249.67 L75.29,249.67 L75.68,249.67 L76.07,249.67 L76.45,249.67 L76.84,249.67 L77.23,249.67 L77.62,249.67 L78.01,249.67 L78.40,249.67 L78.78,249.67 L79.17,249.67 L79.56,249.67 L79.95,249.67 L80.34,249.67 L80.72,249.67 L81.11,249.67 L81.50,249.67 L81.89,249.67 L82.28,249.67 L82.67,249.67 L83.05,249.67 L83.44,249.67 L83.83,249.67 L84.22,249.67 L84.61,249.67 L85.00,249.67 L85.38,249.67 L85.77,249.67 L86.16,249.67 L86.55,249.67 L86.94,249.67 L87.33,249.67 L87.72,249.67 L88.10,249.67 L88.49,249.67 L88.88,249.67 L89.27,249.67 L89.66,249.67 L90.05,249.67 L90.43,249.67 L90.82,249.67 L91.21,249.67 L91.60,249.67 L91.99,249.67 L92.38,249.67 L92.76,249.67 L93.15,249.67 L93.54,249.67 L93.93,249.67 L94.32,249.67 L94.70,249.67 L95.09,249.67 L95.48,249.67 L95.87,249.67 L96.26,249.67 L96.65,249.67 L97.03,249.67 L97.42,249.67 L97.81,249.67 L98.20,249.67 L98.59,249.67 L98.98,249.67 L99.37,249.67 L99.75,249.67 L100.14,249.67 L100.53,249.67 L100.92,249.67 L101.31,249.67 L101.70,249.67 L102.08,249.67 L102.47,249.67 L102.86,249.67 L103.25,249.67 L103.64,249.67 L104.03,249.67 L104.41,249.67 L104.80,249.67 L105.19,249.67 L105.58,249.67 L105.97,249.67 L106.35,249.67 L106.74,249.67 L107.13,249.67 L107.52,249.67 L107.91,249.67 L108.30,249.67 L108.68,249.67 L109.07,249.67 L109.46,249.67 L109.85,249.67 L110.24,249.67 L110.63,249.67 L111.02,249.67 L111.40,249.67 L111.79,249.67 L112.18,249.67 L112.57,249.67 L112.96,249.67 L113.35,249.67 L113.73,249.67 L114.12,249.67 L114.51,249.67 L114.90,249.67 L115.29,249.67 L115.68,249.67 L116.06,249.67 L116.45,249.67 L116.84,249.67 L117.23,249.67 L117.62,249.67 L118.00,249.67 L118.39,249.67 L118.78,249.67 L119.17,249.67 L119.56,249.67 L119.95,249.67 L120.33,249.67 L120.72,249.67 L121.11,249.67 L121.50,249.67 L121.89,249.67 L122.28,249.67 L122.67,249.67 L123.05,249.67 L123.44,249.67 L123.83,249.67 L124.22,249.67 L124.61,249.67 L125.00,249.67 L125.38,249.67 L125.77,249.67 L126.16,249.67 L126.55,249.67 L126.94,249.67 L127.33,249.67 L127.71,249.67 L128.10,249.67 L128.49,249.67 L128.88,249.67 L129.27,249.67 L129.66,249.67 L130.04,249.67 L130.43,249.67 L130.82,249.67 L131.21,249.67 L131.60,249.67 L131.98,249.67 L132.37,249.67 L132.76,249.67 L133.15,249.67 L133.54,249.67 L133.93,249.67 L134.32,249.67 L134.70,249.67 L135.09,249.67 L135.48,249.67 L135.87,249.67 L136.26,249.67 L136.65,249.67 L137.03,249.67 L137.42,249.67 L137.81,249.67 L138.20,249.67 L138.59,249.67 L138.97,249.67 L139.36,249.67 L139.75,249.67 L140.14,249.67 L140.53,249.67 L140.92,249.67 L141.31,249.67 L141.69,249.67 L142.08,249.67 L142.47,249.67 L142.86,249.67 L143.25,249.67 L143.63,249.67 L144.02,249.67 L144.41,249.67 L144.80,249.67 L145.19,249.67 L145.58,249.67 L145.97,249.67 L146.35,249.67 L146.74,249.67 L147.13,249.67 L147.52,249.67 L147.91,249.67 L148.30,249.67 L148.68,249.67 L149.07,249.67 L149.46,249.67 L149.85,249.67 L150.24,249.67 L150.62,249.67 L151.01,249.67 L151.40,249.67 L151.79,249.67 L152.18,249.67 L152.57,249.67 L152.95,249.67 L153.34,249.67 L153.73,249.67 L154.12,249.67 L154.51,249.67 L154.90,249.67 L155.28,249.67 L155.67,249.67 L156.06,249.67 L156.45,249.67 L156.84,249.67 L157.23,249.67 L157.62,249.67 L158.00,249.67 L158.39,249.67 L158.78,249.67 L159.17,249.67 L159.56,249.67 L159.95,249.67 L160.33,249.67 L160.72,249.67 L161.11,249.67 L161.50,249.67 L161.89,249.67 L162.28,249.67 L162.66,249.67 L163.05,249.67 L163.44,249.67 L163.83,249.67 L164.22,249.67 L164.60,249.67 L164.99,249.67 L165.38,249.67 L165.77,249.67 L166.16,249.67 L166.55,249.67 L166.94,249.67 L167.32,249.67 L167.71,249.67 L168.10,249.67 L168.49,249.67 L168.88,249.67 L169.27,249.67 L169.65,249.67 L170.04,249.67 L170.43,249.67 L170.82,249.67 L171.21,249.67 L171.60,249.67 L171.98,249.67 L172.37,249.67 L172.76,249.67 L173.15,249.67 L173.54,249.67 L173.93,249.67 L174.31,249.67 L174.70,249.67 L175.09,249.67 L175.48,249.67 L175.87,249.67 L176.25,249.67 L176.64,249.67 L177.03,249.66 L177.42,249.66 L177.81,249.66 L178.20,249.66 L178.58,249.66 L178.97,249.66 L179.36,249.66 L179.75,249.66 L180.14,249.66 L180.53,249.66 L180.92,249.66 L181.30,249.66 L181.69,249.66 L182.08,249.66 L182.47,249.66 L182.86,249.66 L183.25,249.66 L183.63,249.66 L184.02,249.66 L184.41,249.66 L184.80,249.66 L185.19,249.66 L185.57,249.66 L185.96,249.66 L186.35,249.66 L186.74,249.66 L187.13,249.66 L187.52,249.66 L187.91,249.66 L188.29,249.66 L188.68,249.66 L189.07,249.66 L189.46,249.66 L189.85,249.65 L190.23,249.65 L190.62,249.65 L191.01,249.65 L191.40,249.65 L191.79,249.65 L192.18,249.65 L192.57,249.65 L192.95,249.65 L193.34,249.65 L193.73,249.65 L194.12,249.65 L194.51,249.65 L194.90,249.65 L195.28,249.65 L195.67,249.65 L196.06,249.64 L196.45,249.64 L196.84,249.64 L197.22,249.64 L197.61,249.64 L198.00,249.64 L198.39,249.64 L198.78,249.64 L199.17,249.64 L199.55,249.64 L199.94,249.63 L200.33,249.63 L200.72,249.63 L201.11,249.63 L201.50,249.63 L201.88,249.63 L202.27,249.63 L202.66,249.62 L203.05,249.62 L203.44,249.62 L203.83,249.62 L204.22,249.62 L204.60,249.62 L204.99,249.61 L205.38,249.61 L205.77,249.61 L206.16,249.61 L206.54,249.61 L206.93,249.60 L207.32,249.60 L207.71,249.60 L208.10,249.60 L208.49,249.60 L208.88,249.59 L209.26,249.59 L209.65,249.59 L210.04,249.58 L210.43,249.58 L210.82,249.58 L211.20,249.58 L211.59,249.57 L211.98,249.57 L212.37,249.57 L212.76,249.56 L213.15,249.56 L213.53,249.55 L213.92,249.55 L214.31,249.55 L214.70,249.54 L215.09,249.54 L215.48,249.53 L215.87,249.53 L216.25,249.52 L216.64,249.52 L217.03,249.51 L217.42,249.51 L217.81,249.50 L218.19,249.50 L218.58,249.49 L218.97,249.49 L219.36,249.48 L219.75,249.47 L220.14,249.47 L220.53,249.46 L220.91,249.45 L221.30,249.45 L221.69,249.44 L222.08,249.43 L222.47,249.42 L222.85,249.41 L223.24,249.41 L223.63,249.40 L224.02,249.39 L224.41,249.38 L224.80,249.37 L225.19,249.36 L225.57,249.35 L225.96,249.34 L226.35,249.32 L226.74,249.31 L227.13,249.30 L227.51,249.29 L227.90,249.28 L228.29,249.26 L228.68,249.25 L229.07,249.23 L229.46,249.22 L229.84,249.20 L230.23,249.19 L230.62,249.17 L231.01,249.16 L231.40,249.14 L231.79,249.12 L232.18,249.10 L232.56,249.08 L232.95,249.06 L233.34,249.04 L233.73,249.02 L234.12,249.00 L234.50,248.98 L234.89,248.95 L235.28,248.93 L235.67,248.90 L236.06,248.88 L236.45,248.85 L236.84,248.82 L237.22,248.79 L237.61,248.77 L238.00,248.73 L238.39,248.70 L238.78,248.67 L239.17,248.64 L239.55,248.60 L239.94,248.57 L240.33,248.53 L240.72,248.49 L241.11,248.45 L241.50,248.41 L241.88,248.37 L242.27,248.32 L242.66,248.28 L243.05,248.23 L243.44,248.18 L243.82,248.13 L244.21,248.08 L244.60,248.03 L244.99,247.97 L245.38,247.92 L245.77,247.86 L246.16,247.80 L246.54,247.73 L246.93,247.67 L247.32,247.60 L247.71,247.53 L248.10,247.46 L248.48,247.39 L248.87,247.31 L249.26,247.23 L249.65,247.15 L250.04,247.06 L250.43,246.98 L250.82,246.89 L251.20,246.79 L251.59,246.70 L251.98,246.60 L252.37,246.50 L252.76,246.39 L253.15,246.28 L253.53,246.17 L253.92,246.05 L254.31,245.93 L254.70,245.81 L255.09,245.68 L255.47,245.55 L255.86,245.41 L256.25,245.27 L256.64,245.12 L257.03,244.97 L257.42,244.82 L257.81,244.66 L258.19,244.49 L258.58,244.32 L258.97,244.14 L259.36,243.96 L259.75,243.77 L260.13,243.58 L260.52,243.38 L260.91,243.17 L261.30,242.96 L261.69,242.74 L262.08,242.52 L262.47,242.28 L262.85,242.04 L263.24,241.79 L263.63,241.54 L264.02,241.27 L264.41,241.00 L264.80,240.72 L265.18,240.43 L265.57,240.13 L265.96,239.83 L266.35,239.51 L266.74,239.18 L267.12,238.85 L267.51,238.50 L267.90,238.14 L268.29,237.78 L268.68,237.40 L269.07,237.01 L269.45,236.61 L269.84,236.20 L270.23,235.77 L270.62,235.34 L271.01,234.89 L271.40,234.42 L271.79,233.95 L272.17,233.46 L272.56,232.96 L272.95,232.44 L273.34,231.91 L273.73,231.36 L274.12,230.80 L274.50,230.22 L274.89,229.63 L275.28,229.02 L275.67,228.40 L276.06,227.75 L276.45,227.10 L276.83,226.42 L277.22,225.73 L277.61,225.02 L278.00,224.29 L278.39,223.54 L278.78,222.78 L279.16,221.99 L279.55,221.19 L279.94,220.37 L280.33,219.53 L280.72,218.66 L281.11,217.78 L281.49,216.88 L281.88,215.96 L282.27,215.02 L282.66,214.05 L283.05,213.07 L283.44,212.06 L283.82,211.04 L284.21,209.99 L284.60,208.92 L284.99,207.83 L285.38,206.72 L285.77,205.59 L286.15,204.44 L286.54,203.27 L286.93,202.07 L287.32,200.86 L287.71,199.62 L288.10,198.36 L288.48,197.09 L288.87,195.79 L289.26,194.47 L289.65,193.14 L290.04,191.78 L290.43,190.41 L290.81,189.01 L291.20,187.60 L291.59,186.17 L291.98,184.73 L292.37,183.26 L292.75,181.79 L293.14,180.29 L293.53,178.78 L293.92,177.26 L294.31,175.72 L294.70,174.17 L295.08,172.61 L295.47,171.03 L295.86,169.45 L296.25,167.85 L296.64,166.25 L297.03,164.64 L297.42,163.02 L297.80,161.39 L298.19,159.76 L298.58,158.12 L298.97,156.48 L299.36,154.83 L299.75,153.18 L300.13,151.53 L300.52,149.89 L300.91,148.24 L301.30,146.59 L301.69,144.94 L302.07,143.30 L302.46,141.66 L302.85,140.03 L303.24,138.40 L303.63,136.78 L304.02,135.17 L304.41,133.57 L304.79,131.97 L305.18,130.39 L305.57,128.81 L305.96,127.25 L306.35,125.70 L306.74,124.16 L307.12,122.64 L307.51,121.13 L307.90,119.63 L308.29,118.16 L308.68,116.69 L309.07,115.25 L309.45,113.82 L309.84,112.41 L310.23,111.01 L310.62,109.64 L311.01,108.28 L311.40,106.95 L311.78,105.63 L312.17,104.33 L312.56,103.06 L312.95,101.80 L313.34,100.56 L313.73,99.35 L314.11,98.15 L314.50,96.98 L314.89,95.83 L315.28,94.70 L315.67,93.58 L316.06,92.50 L316.44,91.43 L316.83,90.38 L317.22,89.36 L317.61,88.35 L318.00,87.37 L318.38,86.40 L318.77,85.46 L319.16,84.54 L319.55,83.64 L319.94,82.75 L320.33,81.89 L320.72,81.05 L321.10,80.23 L321.49,79.43 L321.88,78.64 L322.27,77.88 L322.66,77.13 L323.05,76.40 L323.43,75.69 L323.82,75.00 L324.21,74.32 L324.60,73.67 L324.99,73.02 L325.38,72.40 L325.76,71.79 L326.15,71.20 L326.54,70.62 L326.93,70.06 L327.32,69.51 L327.71,68.98 L328.09,68.46 L328.48,67.96 L328.87,67.47 L329.26,67.00 L329.65,66.53 L330.04,66.08 L330.42,65.65 L330.81,65.22 L331.20,64.81 L331.59,64.41 L331.98,64.02 L332.37,63.64 L332.75,63.28 L333.14,62.92 L333.53,62.57 L333.92,62.24 L334.31,61.91 L334.70,61.59 L335.08,61.29 L335.47,60.99 L335.86,60.70 L336.25,60.42 L336.64,60.15 L337.03,59.88 L337.41,59.63 L337.80,59.38 L338.19,59.14 L338.58,58.90 L338.97,58.68 L339.36,58.46 L339.74,58.25 L340.13,58.04 L340.52,57.84 L340.91,57.65 L341.30,57.46 L341.69,57.28 L342.07,57.10 L342.46,56.93 L342.85,56.76 L343.24,56.60 L343.63,56.45 L344.02,56.30 L344.40,56.15 L344.79,56.01 L345.18,55.87 L345.57,55.74 L345.96,55.61 L346.35,55.49 L346.73,55.37 L347.12,55.25 L347.51,55.14 L347.90,55.03 L348.29,54.92 L348.68,54.82 L349.06,54.72 L349.45,54.63 L349.84,54.53 L350.23,54.44 L350.62,54.36 L351.00,54.27 L351.39,54.19 L351.78,54.11 L352.17,54.03 L352.56,53.96 L352.95,53.89 L353.34,53.82 L353.72,53.75 L354.11,53.69 L354.50,53.63 L354.89,53.56 L355.28,53.51 L355.67,53.45 L356.05,53.39 L356.44,53.34 L356.83,53.29 L357.22,53.24 L357.61,53.19 L358.00,53.14 L358.38,53.10 L358.77,53.06 L359.16,53.01 L359.55,52.97 L359.94,52.93 L360.33,52.90 L360.71,52.86 L361.10,52.82 L361.49,52.79 L361.88,52.76 L362.27,52.72 L362.66,52.69 L363.04,52.66 L363.43,52.64 L363.82,52.61 L364.21,52.58 L364.60,52.56 L364.99,52.53 L365.37,52.51 L365.76,52.49 L366.15,52.47 L366.54,52.45 L366.93,52.43 L367.31,52.41 L367.70,52.40 L368.09,52.38 L368.48,52.37 L368.87,52.36 L369.26,52.35 L369.65,52.34 L370.03,52.33 L370.42,52.32 L370.81,52.32 L371.20,52.31 L371.59,52.31 L371.98,52.32 L372.36,52.32 L372.75,52.33 L373.14,52.34 L373.53,52.35 L373.92,52.37 L374.31,52.39 L374.69,52.42 L375.08,52.45 L375.47,52.48 L375.86,52.52 L376.25,52.57 L376.63,52.63 L377.02,52.70 L377.41,52.77 L377.80,52.86 L378.19,52.96 L378.58,53.07 L378.97,53.19 L379.35,53.33 L379.74,53.50 L380.13,53.68 L380.52,53.88 L380.91,54.11 L381.30,54.37 L381.68,54.67 L382.07,54.99 L382.46,55.36 L382.85,55.77 L383.24,56.23 L383.63,56.75 L384.01,57.32 L384.40,57.96 L384.79,58.67 L385.18,59.46 L385.57,60.34 L385.96,61.31 L386.34,62.38 L386.73,63.56 L387.12,64.86 L387.51,66.29 L387.90,67.85 L388.29,69.56 L388.67,71.41 L389.06,73.43 L389.45,75.61 L389.84,77.97 L390.23,80.49 L390.62,83.20 L391.00,86.08 L391.39,89.14 L391.78,92.37 L392.17,95.77 L392.56,99.34 L392.95,103.06 L393.33,106.93 L393.72,110.93 L394.11,115.04 L394.50,119.26 L394.89,123.57 L395.28,127.95 L395.66,132.38 L396.05,136.84 L396.44,141.33 L396.83,145.81 L397.22,150.28 L397.61,154.71 L397.99,159.09 L398.38,163.41 L398.77,167.66 L399.16,171.81 L399.55,175.87 L399.94,179.81 L400.32,183.64 L400.71,187.35 L401.10,190.92 L401.49,194.36 L401.88,197.66 L402.26,200.82 L402.65,203.85 L403.04,206.73 L403.43,209.47 L403.82,212.07 L404.21,214.54 L404.60,216.87 L404.98,219.08 L405.37,221.16 L405.76,223.11 L406.15,224.96 L406.54,226.68 L406.93,228.31 L407.31,229.82 L407.70,231.24 L408.09,232.57 L408.48,233.81 L408.87,234.97 L409.26,236.05 L409.64,237.05 L410.03,237.99 L410.42,238.85 L410.81,239.66 L411.20,240.41 L411.59,241.11 L411.97,241.75 L412.36,242.35 L412.75,242.91 L413.14,243.42 L413.53,243.90 L413.92,244.34 L414.30,244.75 L414.69,245.12 L415.08,245.47 L415.47,245.80 L415.86,246.10 L416.25,246.37 L416.63,246.63 L417.02,246.86 L417.41,247.08 L417.80,247.28 L418.19,247.47 L418.58,247.64 L418.96,247.79 L419.35,247.94 L419.74,248.07 L420.13,248.20 L420.52,248.31 L420.91,248.42 L421.29,248.52 L421.68,248.61 L422.07,248.69 L422.46,248.77 L422.85,248.84 L423.24,248.90 L423.62,248.96 L424.01,249.02 L424.40,249.07 L424.79,249.12 L425.18,249.16 L425.57,249.20 L425.95,249.24 L426.34,249.27 L426.73,249.30 L427.12,249.33 L427.51,249.36 L427.89,249.38 L428.28,249.40 L428.67,249.42 L429.06,249.44 L429.45,249.46 L429.84,249.48 L430.23,249.49 L430.61,249.51 L431.00,249.52 L431.39,249.53 L431.78,249.54 L432.17,249.55 L432.56,249.56 L432.94,249.57 L433.33,249.58 L433.72,249.59 L434.11,249.59 L434.50,249.60 L434.88,249.60 L435.27,249.61 L435.66,249.61 L436.05,249.62 L436.44,249.62 L436.83,249.63 L437.22,249.63 L437.60,249.63 L437.99,249.64 L438.38,249.64 L438.77,249.64 L439.16,249.64 L439.55,249.65 L439.93,249.65 L440.32,249.65 L440.71,249.65 L441.10,249.65 L441.49,249.65 L441.88,249.65 L442.26,249.66 L442.65,249.66 L443.04,249.66 L443.43,249.66 L443.82,249.66 L444.21,249.66 L444.59,249.66 L444.98,249.66 L445.37,249.66 L445.76,249.66 L446.15,249.66 L446.54,249.66 L446.92,249.66 L447.31,249.67 L447.70,249.67 L448.09,249.67 L448.48,249.67 L448.87,249.67 L449.25,249.67 L449.64,249.67 L450.03,249.67 L450.42,249.67 L450.81,249.67 L451.19,249.67 L451.58,249.67 L451.97,249.67 L452.36,249.67 L452.75,249.67 L453.14,249.67 L453.53,249.67 L453.91,249.67 L454.30,249.67 L454.69,249.67 L455.08,249.67 L455.47,249.67 L455.86,249.67 L456.24,249.67 L456.63,249.67 L457.02,249.67 L457.41,249.67 L457.80,249.67 L458.19,249.67 L458.57,249.67 L458.96,249.67 L459.85,249.67" stroke="#3f7f00" stroke-dasharray="3.1 3.3 7.1 3.3" stroke-dashoffset="13.68"/>
<path d="M50.70,249.67 L51.99,249.67 L52.38,249.67 L52.77,249.67 L53.15,249.67 L53.54,249.67 L53.93,249.67 L54.32,249.67 L54.71,249.67 L55.10,249.67 L55.48,249.67 L55.87,249.67 L56.26,249.67 L56.65,249.67 L57.04,249.67 L57.43,249.67 L57.81,249.67 L58.20,249.67 L58.59,249.67 L58.98,249.67 L59.37,249.67 L59.75,249.67 L60.14,249.67 L60.53,249.67 L60.92,249.67 L61.31,249.67 L61.70,249.67 L62.08,249.67 L62.47,249.67 L62.86,249.67 L63.25,249.67 L63.64,249.67 L64.03,249.67 L64.42,249.67 L64.80,249.67 L65.19,249.67 L65.58,249.67 L65.97,249.67 L66.36,249.67 L66.75,249.67 L67.13,249.67 L67.52,249.67 L67.91,249.67 L68.30,249.67 L68.69,249.67 L69.08,249.67 L69.46,249.67 L69.85,249.67 L70.24,249.67 L70.63,249.67 L71.02,249.67 L71.41,249.67 L71.79,249.67 L72.18,249.67 L72.57,249.67 L72.96,249.67 L73.35,249.67 L73.73,249.67 L74.12,249.67 L74.51,249.67 L74.90,249.67 L75.29,249.67 L75.68,249.67 L76.07,249.67 L76.45,249.67 L76.84,249.67 L77.23,249.67 L77.62,249.67 L78.01,249.67 L78.40,249.67 L78.78,249.67 L79.17,249.67 L79.56,249.67 L79.95,249.67 L80.34,249.67 L80.72,249.67 L81.11,249.67 L81.50,249.67 L81.89,249.67 L82.28,249.67 L82.67,249.67 L83.05,249.67 L83.44,249.67 L83.83,249.67 L84.22,249.67 L84.61,249.67 L85.00,249.67 L85.38,249.67 L85.77,249.67 L86.16,249.67 L86.55,249.67 L86.94,249.67 L87.33,249.67 L87.72,249.67 L88.10,249.67 L88.49,249.67 L88.88,249.67 L89.27,249.67 L89.66,249.67 L90.05,249.67 L90.43,249.67 L90.82,249.67 L91.21,249.67 L91.60,249.67 L91.99,249.67 L92.38,249.67 L92.76,249.67 L93.15,249.67 L93.54,249.67 L93.93,249.67 L94.32,249.67 L94.70,249.67 L95.09,249.67 L95.48,249.67 L95.87,249.67 L96.26,249.67 L96.65,249.67 L97.03,249.67 L97.42,249.67 L97.81,249.67 L98.20,249.67 L98.59,249.67 L98.98,249.67 L99.37,249.67 L99.75,249.67 L100.14,249.67 L100.53,249.67 L100.92,249.67 L101.31,249.67 L101.70,249.67 L102.08,249.67 L102.47,249.67 L102.86,249.67 L103.25,249.67 L103.64,249.67 L104.03,249.67 L104.41,249.67 L104.80,249.67 L105.19,249.67 L105.58,249.67 L105.97,249.67 L106.35,249.67 L106.74,249.67 L107.13,249.67 L107.52,249.67 L107.91,249.67 L108.30,249.67 L108.68,249.67 L109.07,249.67 L109.46,249.67 L109.85,249.67 L110.24,249.67 L110.63,249.67 L111.02,249.67 L111.40,249.67 L111.79,249.67 L112.18,249.67 L112.57,249.67 L112.96,249.67 L113.35,249.67 L113.73,249.67 L114.12,249.67 L114.51,249.67 L114.90,249.67 L115.29,249.67 L115.68,249.67 L116.06,249.67 L116.45,249.67 L116.84,249.67 L117.23,249.67 L117.62,249.67 L118.00,249.67 L118.39,249.67 L118.78,249.67 L119.17,249.67 L119.56,249.67 L119.95,249.67 L120.33,249.67 L120.72,249.67 L121.11,249.67 L121.50,249.67 L121.89,249.67 L122.28,249.67 L122.67,249.67 L123.05,249.67 L123.44,249.67 L123.83,249.67 L124.22,249.67 L124.61,249.67 L125.00,249.67 L125.38,249.67 L125.77,249.67 L126.16,249.67 L126.55,249.67 L126.94,249.67 L127.33,249.67 L127.71,249.67 L128.10,249.67 L128.49,249.67 L128.88,249.67 L129.27,249.67 L129.66,249.67 L130.04,249.67 L130.43,249.67 L130.82,249.67 L131.21,249.67 L131.60,249.67 L131.98,249.67 L132.37,249.67 L132.76,249.67 L133.15,249.67 L133.54,249.67 L133.93,249.67 L134.32,249.67 L134.70,249.67 L135.09,249.67 L135.48,249.67 L135.87,249.67 L136.26,249.67 L136.65,249.67 L137.03,249.67 L137.42,249.67 L137.81,249.67 L138.20,249.67 L138.59,249.67 L138.97,249.67 L139.36,249.67 L139.75,249.67 L140.14,249.67 L140.53,249.67 L140.92,249.67 L141.31,249.67 L141.69,249.67 L142.08,249.67 L142.47,249.67 L142.86,249.67 L143.25,249.67 L143.63,249.67 L144.02,249.67 L144.41,249.67 L144.80,249.67 L145.19,249.67 L145.58,249.67 L145.97,249.67 L146.35,249.67 L146.74,249.67 L147.13,249.67 L147.52,249.67 L147.91,249.67 L148.30,249.67 L148.68,249.67 L149.07,249.67 L149.46,249.67 L149.85,249.67 L150.24,249.67 L150.62,249.67 L151.01,249.67 L151.40,249.67 L151.79,249.67 L152.18,249.67 L152.57,249.67 L152.95,249.67 L153.34,249.67 L153.73,249.67 L154.12,249.67 L154.51,249.67 L154.90,249.67 L155.28,249.67 L155.67,249.67 L156.06,249.67 L156.45,249.67 L156.84,249.67 L157.23,249.67 L157.62,249.67 L158.00,249.67 L158.39,249.67 L158.78,249.67 L159.17,249.67 L159.56,249.67 L159.95,249.67 L160.33,249.67 L160.72,249.67 L161.11,249.67 L161.50,249.67 L161.89,249.67 L162.28,249.67 L162.66,249.67 L163.05,249.67 L163.44,249.67 L163.83,249.67 L164.22,249.67 L164.60,249.67 L164.99,249.67 L165.38,249.67 L165.77,249.67 L166.16,249.67 L166.55,249.67 L166.94,249.67 L167.32,249.67 L167.71,249.67 L168.10,249.67 L168.49,249.67 L168.88,249.67 L169.27,249.67 L169.65,249.67 L170.04,249.67 L170.43,249.67 L170.82,249.67 L171.21,249.67 L171.60,249.67 L171.98,249.67 L172.37,249.67 L172.76,249.67 L173.15,249.67 L173.54,249.67 L173.93,249.67 L174.31,249.67 L174.70,249.67 L175.09,249.66 L175.48,249.66 L175.87,249.66 L176.25,249.66 L176.64,249.66 L177.03,249.66 L177.42,249.66 L177.81,249.66 L178.20,249.66 L178.58,249.66 L178.97,249.66 L179.36,249.66 L179.75,249.66 L180.14,249.66 L180.53,249.66 L180.92,249.66 L181.30,249.66 L181.69,249.66 L182.08,249.66 L182.47,249.66 L182.86,249.66 L183.25,249.66 L183.63,249.66 L184.02,249.66 L184.41,249.66 L184.80,249.66 L185.19,249.66 L185.57,249.66 L185.96,249.66 L186.35,249.66 L186.74,249.66 L187.13,249.66 L187.52,249.66 L187.91,249.65 L188.29,249.65 L188.68,249.65 L189.07,249.65 L189.46,249.65 L189.85,249.65 L190.23,249.65 L190.62,249.65 L191.01,249.65 L191.40,249.65 L191.79,249.65 L192.18,249.65 L192.57,249.65 L192.95,249.65 L193.34,249.65 L193.73,249.64 L194.12,249.64 L194.51,249.64 L194.90,249.64 L195.28,249.64 L195.67,249.64 L196.06,249.64 L196.45,249.64 L196.84,249.64 L197.22,249.64 L197.61,249.64 L198.00,249.63 L198.39,249.63 L198.78,249.63 L199.17,249.63 L199.55,249.63 L199.94,249.63 L200.33,249.63 L200.72,249.62 L201.11,249.62 L201.50,249.62 L201.88,249.62 L202.27,249.62 L202.66,249.62 L203.05,249.61 L203.44,249.61 L203.83,249.61 L204.22,249.61 L204.60,249.61 L204.99,249.60 L205.38,249.60 L205.77,249.60 L206.16,249.60 L206.54,249.59 L206.93,249.59 L207.32,249.59 L207.71,249.59 L208.10,249.58 L208.49,249.58 L208.88,249.58 L209.26,249.57 L209.65,249.57 L210.04,249.57 L210.43,249.56 L210.82,249.56 L211.20,249.56 L211.59,249.55 L211.98,249.55 L212.37,249.55 L212.76,249.54 L213.15,249.54 L213.53,249.53 L213.92,249.53 L214.31,249.52 L214.70,249.52 L215.09,249.51 L215.48,249.51 L215.87,249.50 L216.25,249.50 L216.64,249.49 L217.03,249.48 L217.42,249.48 L217.81,249.47 L218.19,249.47 L218.58,249.46 L218.97,249.45 L219.36,249.44 L219.75,249.44 L220.14,249.43 L220.53,249.42 L220.91,249.41 L221.30,249.40 L221.69,249.39 L222.08,249.38 L222.47,249.38 L222.85,249.37 L223.24,249.35 L223.63,249.34 L224.02,249.33 L224.41,249.32 L224.80,249.31 L225.19,249.30 L225.57,249.29 L225.96,249.27 L226.35,249.26 L226.74,249.24 L227.13,249.23 L227.51,249.22 L227.90,249.20 L228.29,249.18 L228.68,249.17 L229.07,249.15 L229.46,249.13 L229.84,249.12 L230.23,249.10 L230.62,249.08 L231.01,249.06 L231.40,249.04 L231.79,249.01 L232.18,248.99 L232.56,248.97 L232.95,248.95 L233.34,248.92 L233.73,248.90 L234.12,248.87 L234.50,248.84 L234.89,248.82 L235.28,248.79 L235.67,248.76 L236.06,248.73 L236.45,248.69 L236.84,248.66 L237.22,248.63 L237.61,248.59 L238.00,248.56 L238.39,248.52 L238.78,248.48 L239.17,248.44 L239.55,248.40 L239.94,248.35 L240.33,248.31 L240.72,248.26 L241.11,248.22 L241.50,248.17 L241.88,248.12 L242.27,248.06 L242.66,248.01 L243.05,247.95 L243.44,247.90 L243.82,247.84 L244.21,247.78 L244.60,247.71 L244.99,247.65 L245.38,247.58 L245.77,247.51 L246.16,247.44 L246.54,247.36 L246.93,247.28 L247.32,247.20 L247.71,247.12 L248.10,247.04 L248.48,246.95 L248.87,246.86 L249.26,246.76 L249.65,246.66 L250.04,246.56 L250.43,246.46 L250.82,246.35 L251.20,246.24 L251.59,246.13 L251.98,246.01 L252.37,245.89 L252.76,245.76 L253.15,245.63 L253.53,245.50 L253.92,245.36 L254.31,245.21 L254.70,245.07 L255.09,244.91 L255.47,244.75 L255.86,244.59 L256.25,244.42 L256.64,244.25 L257.03,244.07 L257.42,243.89 L257.81,243.69 L258.19,243.50 L258.58,243.29 L258.97,243.08 L259.36,242.87 L259.75,242.64 L260.13,242.41 L260.52,242.17 L260.91,241.93 L261.30,241.67 L261.69,241.41 L262.08,241.14 L262.47,240.86 L262.85,240.58 L263.24,240.28 L263.63,239.98 L264.02,239.66 L264.41,239.34 L264.80,239.00 L265.18,238.66 L265.57,238.30 L265.96,237.94 L266.35,237.56 L266.74,237.17 L267.12,236.77 L267.51,236.36 L267.90,235.93 L268.29,235.50 L268.68,235.04 L269.07,234.58 L269.45,234.10 L269.84,233.61 L270.23,233.11 L270.62,232.58 L271.01,232.05 L271.40,231.50 L271.79,230.93 L272.17,230.35 L272.56,229.75 L272.95,229.13 L273.34,228.50 L273.73,227.85 L274.12,227.18 L274.50,226.49 L274.89,225.78 L275.28,225.06 L275.67,224.31 L276.06,223.55 L276.45,222.77 L276.83,221.96 L277.22,221.13 L277.61,220.29 L278.00,219.42 L278.39,218.53 L278.78,217.62 L279.16,216.68 L279.55,215.73 L279.94,214.75 L280.33,213.74 L280.72,212.72 L281.11,211.66 L281.49,210.59 L281.88,209.49 L282.27,208.37 L282.66,207.22 L283.05,206.05 L283.44,204.85 L283.82,203.63 L284.21,202.38 L284.60,201.11 L284.99,199.81 L285.38,198.48 L285.77,197.14 L286.15,195.76 L286.54,194.36 L286.93,192.94 L287.32,191.49 L287.71,190.02 L288.10,188.52 L288.48,187.00 L288.87,185.45 L289.26,183.88 L289.65,182.29 L290.04,180.67 L290.43,179.03 L290.81,177.37 L291.20,175.69 L291.59,173.99 L291.98,172.26 L292.37,170.52 L292.75,168.76 L293.14,166.98 L293.53,165.18 L293.92,163.36 L294.31,161.53 L294.70,159.68 L295.08,157.82 L295.47,155.94 L295.86,154.05 L296.25,152.15 L296.64,150.24 L297.03,148.32 L297.42,146.39 L297.80,144.45 L298.19,142.50 L298.58,140.55 L298.97,138.59 L299.36,136.63 L299.75,134.67 L300.13,132.70 L300.52,130.74 L300.91,128.77 L301.30,126.81 L301.69,124.85 L302.07,122.89 L302.46,120.94 L302.85,118.99 L303.24,117.05 L303.63,115.12 L304.02,113.20 L304.41,111.29 L304.79,109.39 L305.18,107.50 L305.57,105.62 L305.96,103.76 L306.35,101.91 L306.74,100.08 L307.12,98.26 L307.51,96.46 L307.90,94.68 L308.29,92.92 L308.68,91.18 L309.07,89.45 L309.45,87.75 L309.84,86.07 L310.23,84.41 L310.62,82.77 L311.01,81.15 L311.40,79.56 L311.78,77.99 L312.17,76.44 L312.56,74.92 L312.95,73.42 L313.34,71.95 L313.73,70.50 L314.11,69.08 L314.50,67.68 L314.89,66.30 L315.28,64.96 L315.67,63.63 L316.06,62.33 L316.44,61.06 L316.83,59.81 L317.22,58.59 L317.61,57.39 L318.00,56.22 L318.38,55.07 L318.77,53.95 L319.16,52.85 L319.55,51.78 L319.94,50.72 L320.33,49.70 L320.72,48.69 L321.10,47.71 L321.49,46.76 L321.88,45.82 L322.27,44.91 L322.66,44.02 L323.05,43.15 L323.43,42.31 L323.82,41.48 L324.21,40.67 L324.60,39.89 L324.99,39.13 L325.38,38.38 L325.76,37.66 L326.15,36.95 L326.54,36.26 L326.93,35.59 L327.32,34.94 L327.71,34.31 L328.09,33.69 L328.48,33.09 L328.87,32.51 L329.26,31.94 L329.65,31.39 L330.04,30.86 L330.42,30.33 L330.81,29.83 L331.20,29.34 L331.59,28.86 L331.98,28.40 L332.37,27.94 L332.75,27.51 L333.14,27.08 L333.53,26.67 L333.92,26.27 L334.31,25.88 L334.70,25.50 L335.08,25.14 L335.47,24.78 L335.86,24.44 L336.25,24.10 L336.64,23.78 L337.03,23.46 L337.41,23.16 L337.80,22.86 L338.19,22.58 L338.58,22.30 L338.97,22.03 L339.36,21.77 L339.74,21.51 L340.13,21.27 L340.52,21.03 L340.91,20.80 L341.30,20.57 L341.69,20.36 L342.07,20.15 L342.46,19.94 L342.85,19.75 L343.24,19.55 L343.63,19.37 L344.02,19.19 L344.40,19.02 L344.79,18.85 L345.18,18.69 L345.57,18.53 L345.96,18.37 L346.35,18.23 L346.73,18.08 L347.12,17.94 L347.51,17.81 L347.90,17.68 L348.29,17.55 L348.68,17.43 L349.06,17.31 L349.45,17.20 L349.84,17.09 L350.23,16.98 L350.62,16.88 L351.00,16.78 L351.39,16.68 L351.78,16.58 L352.17,16.49 L352.56,16.41 L352.95,16.32 L353.34,16.24 L353.72,16.16 L354.11,16.08 L354.50,16.01 L354.89,15.93 L355.28,15.86 L355.67,15.79 L356.05,15.73 L356.44,15.67 L356.83,15.60 L357.22,15.54 L357.61,15.49 L358.00,15.43 L358.38,15.38 L358.77,15.33 L359.16,15.28 L359.55,15.23 L359.94,15.18 L360.33,15.14 L360.71,15.09 L361.10,15.05 L361.49,15.01 L361.88,14.97 L362.27,14.93 L362.66,14.89 L363.04,14.86 L363.43,14.83 L363.82,14.79 L364.21,14.76 L364.60,14.73 L364.99,14.70 L365.37,14.68 L365.76,14.65 L366.15,14.63 L366.54,14.60 L366.93,14.58 L367.31,14.56 L367.70,14.54 L368.09,14.52 L368.48,14.51 L368.87,14.49 L369.26,14.48 L369.65,14.47 L370.03,14.46 L370.42,14.45 L370.81,14.45 L371.20,14.44 L371.59,14.44 L371.98,14.45 L372.36,14.45 L372.75,14.46 L373.14,14.47 L373.53,14.49 L373.92,14.51 L374.31,14.53 L374.69,14.56 L375.08,14.60 L375.47,14.64 L375.86,14.69 L376.25,14.75 L376.63,14.82 L377.02,14.90 L377.41,14.99 L377.80,15.09 L378.19,15.21 L378.58,15.34 L378.97,15.49 L379.35,15.66 L379.74,15.85 L380.13,16.07 L380.52,16.31 L380.91,16.59 L381.30,16.90 L381.68,17.25 L382.07,17.64 L382.46,18.07 L382.85,18.56 L383.24,19.11 L383.63,19.73 L384.01,20.41 L384.40,21.17 L384.79,22.02 L385.18,22.96 L385.57,24.00 L385.96,25.16 L386.34,26.44 L386.73,27.85 L387.12,29.40 L387.51,31.10 L387.90,32.96 L388.29,34.99 L388.67,37.21 L389.06,39.61 L389.45,42.21 L389.84,45.02 L390.23,48.03 L390.62,51.25 L391.00,54.68 L391.39,58.33 L391.78,62.18 L392.17,66.24 L392.56,70.49 L392.95,74.93 L393.33,79.54 L393.72,84.30 L394.11,89.21 L394.50,94.24 L394.89,99.37 L395.28,104.59 L395.66,109.87 L396.05,115.19 L396.44,120.54 L396.83,125.88 L397.22,131.20 L397.61,136.49 L397.99,141.71 L398.38,146.86 L398.77,151.92 L399.16,156.87 L399.55,161.71 L399.94,166.41 L400.32,170.97 L400.71,175.39 L401.10,179.65 L401.49,183.75 L401.88,187.68 L402.26,191.45 L402.65,195.05 L403.04,198.49 L403.43,201.75 L403.82,204.86 L404.21,207.80 L404.60,210.58 L404.98,213.21 L405.37,215.69 L405.76,218.02 L406.15,220.21 L406.54,222.27 L406.93,224.21 L407.31,226.02 L407.70,227.71 L408.09,229.29 L408.48,230.77 L408.87,232.15 L409.26,233.43 L409.64,234.63 L410.03,235.74 L410.42,236.78 L410.81,237.74 L411.20,238.64 L411.59,239.46 L411.97,240.23 L412.36,240.95 L412.75,241.61 L413.14,242.22 L413.53,242.79 L413.92,243.32 L414.30,243.80 L414.69,244.25 L415.08,244.67 L415.47,245.05 L415.86,245.41 L416.25,245.74 L416.63,246.04 L417.02,246.32 L417.41,246.58 L417.80,246.82 L418.19,247.04 L418.58,247.25 L418.96,247.43 L419.35,247.61 L419.74,247.77 L420.13,247.92 L420.52,248.05 L420.91,248.18 L421.29,248.30 L421.68,248.40 L422.07,248.50 L422.46,248.59 L422.85,248.68 L423.24,248.75 L423.62,248.83 L424.01,248.89 L424.40,248.95 L424.79,249.01 L425.18,249.06 L425.57,249.11 L425.95,249.15 L426.34,249.19 L426.73,249.23 L427.12,249.26 L427.51,249.30 L427.89,249.33 L428.28,249.35 L428.67,249.38 L429.06,249.40 L429.45,249.42 L429.84,249.44 L430.23,249.46 L430.61,249.48 L431.00,249.49 L431.39,249.50 L431.78,249.52 L432.17,249.53 L432.56,249.54 L432.94,249.55 L433.33,249.56 L433.72,249.57 L434.11,249.58 L434.50,249.58 L434.88,249.59 L435.27,249.60 L435.66,249.60 L436.05,249.61 L436.44,249.61 L436.83,249.62 L437.22,249.62 L437.60,249.63 L437.99,249.63 L438.38,249.63 L438.77,249.63 L439.16,249.64 L439.55,249.64 L439.93,249.64 L440.32,249.64 L440.71,249.65 L441.10,249.65 L441.49,249.65 L441.88,249.65 L442.26,249.65 L442.65,249.65 L443.04,249.66 L443.43,249.66 L443.82,249.66 L444.21,249.66 L444.59,249.66 L444.98,249.66 L445.37,249.66 L445.76,249.66 L446.15,249.66 L446.54,249.66 L446.92,249.66 L447.31,249.66 L447.70,249.66 L448.09,249.67 L448.48,249.67 L448.87,249.67 L449.25,249.67 L449.64,249.67 L450.03,249.67 L450.42,249.67 L450.81,249.67 L451.19,249.67 L451.58,249.67 L451.97,249.67 L452.36,249.67 L452.75,249.67 L453.14,249.67 L453.53,249.67 L453.91,249.67 L454.30,249.67 L454.69,249.67 L455.08,249.67 L455.47,249.67 L455.86,249.67 L456.24,249.67 L456.63,249.67 L457.02,249.67 L457.41,249.67 L457.80,249.67 L458.19,249.67 L458.57,249.67 L458.96,249.67 L460.25,249.67" stroke="#0000ff" stroke-dashoffset="0"/>
<path d="M50.70,249.67 L51.99,249.67 L52.38,249.67 L52.77,249.67 L53.15,249.67 L53.54,249.67 L53.93,249.67 L54.32,249.67 L54.71,249.67 L55.10,249.67 L55.48,249.67 L55.87,249.67 L56.26,249.67 L56.65,249.67 L57.04,249.67 L57.43,249.67 L57.81,249.67 L58.20,249.67 L58.59,249.67 L58.98,249.67 L59.37,249.67 L59.75,249.67 L60.14,249.67 L60.53,249.67 L60.92,249.67 L61.31,249.67 L61.70,249.67 L62.08,249.67 L62.47,249.67 L62.86,249.67 L63.25,249.67 L63.64,249.67 L64.03,249.67 L64.42,249.67 L64.80,249.67 L65.19,249.67 L65.58,249.67 L65.97,249.67 L66.36,249.67 L66.75,249.67 L67.13,249.67 L67.52,249.67 L67.91,249.67 L68.30,249.67 L68.69,249.67 L69.08,249.67 L69.46,249.67 L69.85,249.67 L70.24,249.67 L70.63,249.67 L71.02,249.67 L71.41,249.67 L71.79,249.67 L72.18,249.67 L72.57,249.67 L72.96,249.67 L73.35,249.67 L73.73,249.67 L74.12,249.67 L74.51,249.67 L74.90,249.67 L75.29,249.67 L75.68,249.67 L76.07,249.67 L76.45,249.67 L76.84,249.67 L77.23,249.67 L77.62,249.67 L78.01,249.67 L78.40,249.67 L78.78,249.67 L79.17,249.67 L79.56,249.67 L79.95,249.67 L80.34,249.67 L80.72,249.67 L81.11,249.67 L81.50,249.67 L81.89,249.67 L82.28,249.67 L82.67,249.67 L83.05,249.67 L83.44,249.67 L83.83,249.67 L84.22,249.67 L84.61,249.67 L85.00,249.67 L85.38,249.67 L85.77,249.67 L86.16,249.67 L86.55,249.67 L86.94,249.67 L87.33,249.67 L87.72,249.67 L88.10,249.67 L88.49,249.67 L88.88,249.67 L89.27,249.67 L89.66,249.67 L90.05,249.67 L90.43,249.67 L90.82,249.67 L91.21,249.67 L91.60,249.67 L91.99,249.67 L92.38,249.67 L92.76,249.67 L93.15,249.67 L93.54,249.67 L93.93,249.67 L94.32,249.67 L94.70,249.67 L95.09,249.67 L95.48,249.67 L95.87,249.67 L96.26,249.67 L96.65,249.67 L97.03,249.67 L97.42,249.67 L97.81,249.67 L98.20,249.67 L98.59,249.67 L98.98,249.67 L99.37,249.67 L99.75,249.67 L100.14,249.67 L100.53,249.67 L100.92,249.67 L101.31,249.67 L101.70,249.67 L102.08,249.67 L102.47,249.67 L102.86,249.67 L103.25,249.67 L103.64,249.67 L104.03,249.67 L104.41,249.67 L104.80,249.67 L105.19,249.67 L105.58,249.67 L105.97,249.67 L106.35,249.67 L106.74,249.67 L107.13,249.67 L107.52,249.67 L107.91,249.67 L108.30,249.67 L108.68,249.67 L109.07,249.67 L109.46,249.67 L109.85,249.67 L110.24,249.67 L110.63,249.67 L111.02,249.67 L111.40,249.67 L111.79,249.67 L112.18,249.67 L112.57,249.67 L112.96,249.67 L113.35,249.67 L113.73,249.67 L114.12,249.67 L114.51,249.67 L114.90,249.67 L115.29,249.67 L115.68,249.67 L116.06,249.67 L116.45,249.67 L116.84,249.67 L117.23,249.67 L117.62,249.67 L118.00,249.67 L118.39,249.67 L118.78,249.67 L119.17,249.67 L119.56,249.67 L119.95,249.67 L120.33,249.67 L120.72,249.67 L121.11,249.67 L121.50,249.67 L121.89,249.67 L122.28,249.67 L122.67,249.67 L123.05,249.67 L123.44,249.67 L123.83,249.67 L124.22,249.67 L124.61,249.67 L125.00,249.67 L125.38,249.67 L125.77,249.67 L126.16,249.67 L126.55,249.67 L126.94,249.67 L127.33,249.67 L127.71,249.67 L128.10,249.67 L128.49,249.67 L128.88,249.67 L129.27,249.67 L129.66,249.67 L130.04,249.67 L130.43,249.67 L130.82,249.67 L131.21,249.67 L131.60,249.67 L131.98,249.67 L132.37,249.67 L132.76,249.67 L133.15,249.67 L133.54,249.67 L133.93,249.67 L134.32,249.67 L134.70,249.67 L135.09,249.67 L135.48,249.67 L135.87,249.67 L136.26,249.67 L136.65,249.67 L137.03,249.67 L137.42,249.67 L137.81,249.67 L138.20,249.67 L138.59,249.67 L138.97,249.67 L139.36,249.67 L139.75,249.67 L140.14,249.67 L140.53,249.67 L140.92,249.67 L141.31,249.67 L141.69,249.67 L142.08,249.67 L142.47,249.67 L142.86,249.67 L143.25,249.67 L143.63,249.67 L144.02,249.67 L144.41,249.67 L144.80,249.67 L145.19,249.67 L145.58,249.67 L145.97,249.67 L146.35,249.67 L146.74,249.67 L147.13,249.67 L147.52,249.67 L147.91,249.67 L148.30,249.67 L148.68,249.67 L149.07,249.67 L149.46,249.67 L149.85,249.67 L150.24,249.67 L150.62,249.67 L151.01,249.67 L151.40,249.67 L151.79,249.67 L152.18,249.67 L152.57,249.67 L152.95,249.67 L153.34,249.67 L153.73,249.67 L154.12,249.67 L154.51,249.67 L154.90,249.67 L155.28,249.67 L155.67,249.67 L156.06,249.67 L156.45,249.67 L156.84,249.67 L157.23,249.67 L157.62,249.67 L158.00,249.67 L158.39,249.67 L158.78,249.67 L159.17,249.67 L159.56,249.67 L159.95,249.67 L160.33,249.67 L160.72,249.67 L161.11,249.67 L161.50,249.67 L161.89,249.67 L162.28,249.67 L162.66,249.67 L163.05,249.67 L163.44,249.67 L163.83,249.67 L164.22,249.67 L164.60,249.67 L164.99,249.67 L165.38,249.67 L165.77,249.67 L166.16,249.67 L166.55,249.67 L166.94,249.67 L167.32,249.67 L167.71,249.67 L168.10,249.67 L168.49,249.67 L168.88,249.67 L169.27,249.67 L169.65,249.67 L170.04,249.67 L170.43,249.67 L170.82,249.67 L171.21,249.67 L171.60,249.67 L171.98,249.67 L172.37,249.67 L172.76,249.67 L173.15,249.67 L173.54,249.67 L173.93,249.67 L174.31,249.67 L174.70,249.67 L175.09,249.67 L175.48,249.67 L175.87,249.67 L176.25,249.67 L176.64,249.67 L177.03,249.67 L177.42,249.67 L177.81,249.67 L178.20,249.67 L178.58,249.67 L178.97,249.67 L179.36,249.67 L179.75,249.67 L180.14,249.67 L180.53,249.67 L180.92,249.67 L181.30,249.67 L181.69,249.67 L182.08,249.67 L182.47,249.67 L182.86,249.67 L183.25,249.67 L183.63,249.67 L184.02,249.67 L184.41,249.67 L184.80,249.67 L185.19,249.67 L185.57,249.67 L185.96,249.67 L186.35,249.67 L186.74,249.67 L187.13,249.67 L187.52,249.67 L187.91,249.67 L188.29,249.67 L188.68,249.67 L189.07,249.67 L189.46,249.67 L189.85,249.67 L190.23,249.67 L190.62,249.67 L191.01,249.67 L191.40,249.67 L191.79,249.67 L192.18,249.67 L192.57,249.67 L192.95,249.67 L193.34,249.67 L193.73,249.67 L194.12,249.67 L194.51,249.67 L194.90,249.67 L195.28,249.67 L195.67,249.67 L196.06,249.67 L196.45,249.67 L196.84,249.67 L197.22,249.67 L197.61,249.67 L198.00,249.67 L198.39,249.67 L198.78,249.67 L199.17,249.67 L199.55,249.67 L199.94,249.67 L200.33,249.67 L200.72,249.67 L201.11,249.67 L201.50,249.67 L201.88,249.67 L202.27,249.67 L202.66,249.67 L203.05,249.67 L203.44,249.67 L203.83,249.67 L204.22,249.67 L204.60,249.67 L204.99,249.67 L205.38,249.67 L205.77,249.67 L206.16,249.67 L206.54,249.67 L206.93,249.67 L207.32,249.67 L207.71,249.67 L208.10,249.67 L208.49,249.67 L208.88,249.67 L209.26,249.67 L209.65,249.67 L210.04,249.67 L210.43,249.67 L210.82,249.67 L211.20,249.67 L211.59,249.67 L211.98,249.67 L212.37,249.67 L212.76,249.67 L213.15,249.67 L213.53,249.67 L213.92,249.67 L214.31,249.67 L214.70,249.67 L215.09,249.67 L215.48,249.67 L215.87,249.67 L216.25,249.67 L216.64,249.67 L217.03,249.67 L217.42,249.67 L217.81,249.67 L218.19,249.67 L218.58,249.67 L218.97,249.67 L219.36,249.67 L219.75,249.67 L220.14,249.67 L220.53,249.67 L220.91,249.67 L221.30,249.67 L221.69,249.67 L222.08,249.67 L222.47,249.67 L222.85,249.67 L223.24,249.67 L223.63,249.67 L224.02,249.67 L224.41,249.67 L224.80,249.67 L225.19,249.67 L225.57,249.67 L225.96,249.67 L226.35,249.67 L226.74,249.67 L227.13,249.67 L227.51,249.67 L227.90,249.67 L228.29,249.67 L228.68,249.67 L229.07,249.67 L229.46,249.67 L229.84,249.67 L230.23,249.67 L230.62,249.67 L231.01,249.67 L231.40,249.67 L231.79,249.67 L232.18,249.67 L232.56,249.67 L232.95,249.67 L233.34,249.67 L233.73,249.67 L234.12,249.67 L234.50,249.67 L234.89,249.67 L235.28,249.67 L235.67,249.67 L236.06,249.67 L236.45,249.67 L236.84,249.67 L237.22,249.67 L237.61,249.67 L238.00,249.67 L238.39,249.67 L238.78,249.67 L239.17,249.67 L239.55,249.67 L239.94,249.67 L240.33,249.67 L240.72,249.67 L241.11,249.67 L241.50,249.67 L241.88,249.67 L242.27,249.67 L242.66,249.67 L243.05,249.67 L243.44,249.67 L243.82,249.67 L244.21,249.67 L244.60,249.67 L244.99,249.67 L245.38,249.67 L245.77,249.67 L246.16,249.67 L246.54,249.67 L246.93,249.67 L247.32,249.67 L247.71,249.67 L248.10,249.67 L248.48,249.67 L248.87,249.67 L249.26,249.67 L249.65,249.67 L250.04,249.67 L250.43,249.67 L250.82,249.67 L251.20,249.67 L251.59,249.67 L251.98,249.67 L252.37,249.67 L252.76,249.67 L253.15,249.67 L253.53,249.67 L253.92,249.67 L254.31,249.67 L254.70,249.67 L255.09,249.67 L255.47,249.67 L255.86,249.67 L256.25,249.67 L256.64,249.67 L257.03,249.67 L257.42,249.67 L257.81,249.67 L258.19,249.67 L258.58,249.67 L258.97,249.67 L259.36,249.67 L259.75,249.67 L260.13,249.67 L260.52,249.67 L260.91,249.67 L261.30,249.67 L261.69,249.67 L262.08,249.67 L262.47,249.67 L262.85,249.67 L263.24,249.67 L263.63,249.67 L264.02,249.67 L264.41,249.67 L264.80,249.67 L265.18,249.67 L265.57,249.67 L265.96,249.67 L266.35,249.67 L266.74,249.67 L267.12,249.67 L267.51,249.67 L267.90,249.67 L268.29,249.67 L268.68,249.67 L269.07,249.67 L269.45,249.67 L269.84,249.67 L270.23,249.67 L270.62,249.67 L271.01,249.67 L271.40,249.67 L271.79,249.67 L272.17,249.67 L272.56,249.67 L272.95,249.67 L273.34,249.67 L273.73,249.67 L274.12,249.67 L274.50,249.67 L274.89,249.67 L275.28,249.67 L275.67,249.67 L276.06,249.67 L276.45,249.67 L276.83,249.67 L277.22,249.67 L277.61,249.67 L278.00,249.67 L278.39,249.67 L278.78,249.67 L279.16,249.67 L279.55,249.67 L279.94,249.67 L280.33,249.67 L280.72,249.67 L281.11,249.67 L281.49,249.67 L281.88,249.67 L282.27,249.67 L282.66,249.67 L283.05,249.67 L283.44,249.67 L283.82,249.67 L284.21,249.67 L284.60,249.67 L284.99,249.67 L285.38,249.67 L285.77,249.67 L286.15,249.67 L286.54,249.67 L286.93,249.67 L287.32,249.67 L287.71,249.67 L288.10,249.67 L288.48,249.67 L288.87,249.67 L289.26,249.67 L289.65,249.67 L290.04,249.67 L290.43,249.67 L290.81,249.67 L291.20,249.67 L291.59,249.67 L291.98,249.67 L292.37,249.67 L292.75,249.67 L293.14,249.67 L293.53,249.67 L293.92,249.67 L294.31,249.67 L294.70,249.67 L295.08,249.67 L295.47,249.67 L295.86,249.67 L296.25,249.67 L296.64,249.67 L297.03,249.67 L297.42,249.67 L297.80,249.67 L298.19,249.67 L298.58,249.67 L298.97,249.67 L299.36,249.67 L299.75,249.67 L300.13,249.67 L300.52,249.67 L300.91,249.67 L301.30,249.67 L301.69,249.67 L302.07,249.67 L302.46,249.67 L302.85,249.67 L303.24,249.67 L303.63,249.67 L304.02,249.67 L304.41,249.67 L304.79,249.67 L305.18,249.67 L305.57,249.67 L305.96,249.67 L306.35,249.67 L306.74,249.67 L307.12,249.67 L307.51,249.67 L307.90,249.67 L308.29,249.67 L308.68,249.67 L309.07,249.67 L309.45,249.67 L309.84,249.67 L310.23,249.67 L310.62,249.67 L311.01,249.67 L311.40,249.67 L311.78,249.67 L312.17,249.67 L312.56,249.67 L312.95,249.67 L313.34,249.67 L313.73,249.67 L314.11,249.67 L314.50,249.67 L314.89,249.67 L315.28,249.67 L315.67,249.67 L316.06,249.67 L316.44,249.67 L316.83,249.67 L317.22,249.67 L317.61,249.67 L318.00,249.67 L318.38,249.67 L318.77,249.67 L319.16,249.67 L319.55,249.67 L319.94,249.67 L320.33,249.67 L320.72,249.67 L321.10,249.67 L321.49,249.67 L321.88,249.67 L322.27,249.67 L322.66,249.67 L323.05,249.67 L323.43,249.67 L323.82,249.67 L324.21,249.67 L324.60,249.67 L324.99,249.67 L325.38,249.67 L325.76,249.67 L326.15,249.67 L326.54,249.67 L326.93,249.67 L327.32,249.67 L327.71,249.67 L328.09,249.67 L328.48,249.67 L328.87,249.67 L329.26,249.67 L329.65,249.67 L330.04,249.67 L330.42,249.67 L330.81,249.67 L331.20,249.67 L331.59,249.67 L331.98,249.67 L332.37,249.67 L332.75,249.67 L333.14,249.67 L333.53,249.67 L333.92,249.67 L334.31,249.67 L334.70,249.67 L335.08,249.67 L335.47,249.67 L335.86,249.67 L336.25,249.67 L336.64,249.67 L337.03,249.67 L337.41,249.67 L337.80,249.67 L338.19,249.67 L338.58,249.67 L338.97,249.67 L339.36,249.67 L339.74,249.67 L340.13,249.67 L340.52,249.67 L340.91,249.67 L341.30,249.67 L341.69,249.67 L342.07,249.67 L342.46,249.67 L342.85,249.67 L343.24,249.67 L343.63,249.67 L344.02,249.67 L344.40,249.67 L344.79,249.67 L345.18,249.67 L345.57,249.67 L345.96,249.67 L346.35,249.67 L346.73,249.67 L347.12,249.67 L347.51,249.67 L347.90,249.67 L348.29,249.67 L348.68,249.67 L349.06,249.67 L349.45,249.67 L349.84,249.67 L350.23,249.67 L350.62,249.67 L351.00,249.67 L351.39,249.67 L351.78,249.67 L352.17,249.67 L352.56,249.67 L352.95,249.67 L353.34,249.67 L353.72,249.67 L354.11,249.67 L354.50,249.67 L354.89,249.67 L355.28,249.67 L355.67,249.67 L356.05,249.67 L356.44,249.67 L356.83,249.67 L357.22,249.67 L357.61,249.67 L358.00,249.67 L358.38,249.67 L358.77,249.67 L359.16,249.67 L359.55,249.67 L359.94,249.67 L360.33,249.67 L360.71,249.66 L361.10,249.66 L361.49,249.66 L361.88,249.66 L362.27,249.66 L362.66,249.66 L363.04,249.66 L363.43,249.66 L363.82,249.66 L364.21,249.65 L364.60,249.65 L364.99,249.65 L365.37,249.65 L365.76,249.64 L366.15,249.64 L366.54,249.64 L366.93,249.63 L367.31,249.63 L367.70,249.62 L368.09,249.62 L368.48,249.61 L368.87,249.60 L369.26,249.59 L369.65,249.58 L370.03,249.57 L370.42,249.56 L370.81,249.55 L371.20,249.53 L371.59,249.52 L371.98,249.50 L372.36,249.47 L372.75,249.45 L373.14,249.42 L373.53,249.39 L373.92,249.36 L374.31,249.32 L374.69,249.27 L375.08,249.22 L375.47,249.17 L375.86,249.11 L376.25,249.03 L376.63,248.96 L377.02,248.87 L377.41,248.77 L377.80,248.65 L378.19,248.53 L378.58,248.38 L378.97,248.23 L379.35,248.05 L379.74,247.84 L380.13,247.62 L380.52,247.37 L380.91,247.08 L381.30,246.77 L381.68,246.41 L382.07,246.01 L382.46,245.57 L382.85,245.07 L383.24,244.51 L383.63,243.89 L384.01,243.21 L384.40,242.44 L384.79,241.58 L385.18,240.64 L385.57,239.59 L385.96,238.43 L386.34,237.14 L386.73,235.73 L387.12,234.17 L387.51,232.47 L387.90,230.60 L388.29,228.56 L388.67,226.34 L389.06,223.93 L389.45,221.33 L389.84,218.52 L390.23,215.50 L390.62,212.28 L391.00,208.84 L391.39,205.19 L391.78,201.33 L392.17,197.27 L392.56,193.01 L392.95,188.57 L393.33,183.96 L393.72,179.19 L394.11,174.28 L394.50,169.25 L394.89,164.11 L395.28,158.89 L395.66,153.61 L396.05,148.28 L396.44,142.94 L396.83,137.59 L397.22,132.27 L397.61,126.98 L397.99,121.75 L398.38,116.60 L398.77,111.54 L399.16,106.59 L399.55,101.75 L399.94,97.05 L400.32,92.48 L400.71,88.07 L401.10,83.81 L401.49,79.71 L401.88,75.77 L402.26,72.00 L402.65,68.40 L403.04,64.96 L403.43,61.69 L403.82,58.59 L404.21,55.65 L404.60,52.87 L404.98,50.24 L405.37,47.76 L405.76,45.43 L406.15,43.23 L406.54,41.17 L406.93,39.24 L407.31,37.43 L407.70,35.73 L408.09,34.15 L408.48,32.67 L408.87,31.29 L409.26,30.01 L409.64,28.81 L410.03,27.70 L410.42,26.66 L410.81,25.70 L411.20,24.81 L411.59,23.98 L411.97,23.21 L412.36,22.49 L412.75,21.83 L413.14,21.22 L413.53,20.65 L413.92,20.12 L414.30,19.64 L414.69,19.19 L415.08,18.77 L415.47,18.39 L415.86,18.03 L416.25,17.70 L416.63,17.40 L417.02,17.12 L417.41,16.86 L417.80,16.62 L418.19,16.40 L418.58,16.19 L418.96,16.01 L419.35,15.83 L419.74,15.67 L420.13,15.52 L420.52,15.39 L420.91,15.26 L421.29,15.14 L421.68,15.04 L422.07,14.94 L422.46,14.85 L422.85,14.76 L423.24,14.69 L423.62,14.61 L424.01,14.55 L424.40,14.49 L424.79,14.43 L425.18,14.38 L425.57,14.33 L425.95,14.29 L426.34,14.25 L426.73,14.21 L427.12,14.18 L427.51,14.14 L427.89,14.11 L428.28,14.09 L428.67,14.06 L429.06,14.04 L429.45,14.02 L429.84,14.00 L430.23,13.98 L430.61,13.96 L431.00,13.95 L431.39,13.94 L431.78,13.92 L432.17,13.91 L432.56,13.90 L432.94,13.89 L433.33,13.88 L433.72,13.87 L434.11,13.86 L434.50,13.86 L434.88,13.85 L435.27,13.84 L435.66,13.84 L436.05,13.83 L436.44,13.83 L436.83,13.82 L437.22,13.82 L437.60,13.81 L437.99,13.81 L438.38,13.81 L438.77,13.81 L439.16,13.80 L439.55,13.80 L439.93,13.80 L440.32,13.80 L440.71,13.79 L441.10,13.79 L441.49,13.79 L441.88,13.79 L442.26,13.79 L442.65,13.79 L443.04,13.78 L443.43,13.78 L443.82,13.78 L444.21,13.78 L444.59,13.78 L444.98,13.78 L445.37,13.78 L445.76,13.78 L446.15,13.78 L446.54,13.78 L446.92,13.78 L447.31,13.78 L447.70,13.78 L448.09,13.77 L448.48,13.77 L448.87,13.77 L449.25,13.77 L449.64,13.77 L450.03,13.77 L450.42,13.77 L450.81,13.77 L451.19,13.77 L451.58,13.77 L451.97,13.77 L452.36,13.77 L452.75,13.77 L453.14,13.77 L453.53,13.77 L453.91,13.77 L454.30,13.77 L454.69,13.77 L455.08,13.77 L455.47,13.77 L455.86,13.77 L456.24,13.77 L456.63,13.77 L457.02,13.77 L457.41,13.77 L457.80,13.77 L458.19,13.77 L458.57,13.77 L458.96,13.77 L460.25,13.77" stroke="#000000" stroke-dashoffset="0"/>
</g>
<g stroke="#808080" stroke-width="1" fill="none">
<rect x="43.5" y="0.5" width="424.0" height="261.55"/>
<path d="M51.60,262.05v-3.6 M51.60,0.5v3.6 M63.25,262.05v-2.3 M63.25,0.5v2.3 M74.90,262.05v-2.3 M74.90,0.5v2.3 M86.55,262.05v-2.3 M86.55,0.5v2.3 M98.20,262.05v-2.3 M98.20,0.5v2.3 M109.85,262.05v-3.6 M109.85,0.5v3.6 M121.50,262.05v-2.3 M121.50,0.5v2.3 M133.15,262.05v-2.3 M133.15,0.5v2.3 M144.80,262.05v-2.3 M144.80,0.5v2.3 M156.45,262.05v-2.3 M156.45,0.5v2.3 M168.10,262.05v-3.6 M168.10,0.5v3.6 M179.75,262.05v-2.3 M179.75,0.5v2.3 M191.40,262.05v-2.3 M191.40,0.5v2.3 M203.05,262.05v-2.3 M203.05,0.5v2.3 M214.70,262.05v-2.3 M214.70,0.5v2.3 M226.35,262.05v-3.6 M226.35,0.5v3.6 M238.00,262.05v-2.3 M238.00,0.5v2.3 M249.65,262.05v-2.3 M249.65,0.5v2.3 M261.30,262.05v-2.3 M261.30,0.5v2.3 M272.95,262.05v-2.3 M272.95,0.5v2.3 M284.60,262.05v-3.6 M284.60,0.5v3.6 M296.25,262.05v-2.3 M296.25,0.5v2.3 M307.90,262.05v-2.3 M307.90,0.5v2.3 M319.55,262.05v-2.3 M319.55,0.5v2.3 M331.20,262.05v-2.3 M331.20,0.5v2.3 M342.85,262.05v-3.6 M342.85,0.5v3.6 M354.50,262.05v-2.3 M354.50,0.5v2.3 M366.15,262.05v-2.3 M366.15,0.5v2.3 M377.80,262.05v-2.3 M377.80,0.5v2.3 M389.45,262.05v-2.3 M389.45,0.5v2.3 M401.10,262.05v-3.6 M401.10,0.5v3.6 M412.75,262.05v-2.3 M412.75,0.5v2.3 M424.40,262.05v-2.3 M424.40,0.5v2.3 M436.05,262.05v-2.3 M436.05,0.5v2.3 M447.70,262.05v-2.3 M447.70,0.5v2.3 M459.35,262.05v-3.6 M459.35,0.5v3.6 M43.5,249.50h3.6 M467.5,249.50h-3.6 M43.5,237.70h2.3 M467.5,237.70h-2.3 M43.5,225.90h2.3 M467.5,225.90h-2.3 M43.5,214.10h2.3 M467.5,214.10h-2.3 M43.5,202.30h3.6 M467.5,202.30h-3.6 M43.5,190.50h2.3 M467.5,190.50h-2.3 M43.5,178.70h2.3 M467.5,178.70h-2.3 M43.5,166.90h2.3 M467.5,166.90h-2.3 M43.5,155.10h3.6 M467.5,155.10h-3.6 M43.5,143.30h2.3 M467.5,143.30h-2.3 M43.5,131.50h2.3 M467.5,131.50h-2.3 M43.5,119.70h2.3 M467.5,119.70h-2.3 M43.5,107.90h3.6 M467.5,107.90h-3.6 M43.5,96.10h2.3 M467.5,96.10h-2.3 M43.5,84.30h2.3 M467.5,84.30h-2.3 M43.5,72.50h2.3 M467.5,72.50h-2.3 M43.5,60.70h3.6 M467.5,60.70h-3.6 M43.5,48.90h2.3 M467.5,48.90h-2.3 M43.5,37.10h2.3 M467.5,37.10h-2.3 M43.5,25.30h2.3 M467.5,25.30h-2.3 M43.5,13.50h3.6 M467.5,13.50h-3.6 M43.5,1.70h2.3 M467.5,1.70h-2.3" stroke="#6a6a6a" stroke-width="0.9"/>
</g>
<g font-family="Liberation Sans, sans-serif" font-size="12.5" fill="#666" opacity="0.999">
<text transform="translate(51.80,279.20) scale(1,1.065)" text-anchor="middle">−<tspan dx="1.6">30</tspan></text>
<text transform="translate(110.05,279.20) scale(1,1.065)" text-anchor="middle">−<tspan dx="1.6">25</tspan></text>
<text transform="translate(168.30,279.20) scale(1,1.065)" text-anchor="middle">−<tspan dx="1.6">20</tspan></text>
<text transform="translate(226.55,279.20) scale(1,1.065)" text-anchor="middle">−<tspan dx="1.6">15</tspan></text>
<text transform="translate(284.80,279.20) scale(1,1.065)" text-anchor="middle">−<tspan dx="1.6">10</tspan></text>
<text transform="translate(343.05,279.20) scale(1,1.065)" text-anchor="middle">−<tspan dx="1.6">5</tspan></text>
<text transform="translate(400.90,279.20) scale(1,1.065)" text-anchor="middle">0</text>
<text transform="translate(459.15,279.20) scale(1,1.065)" text-anchor="middle">5</text>
<text transform="translate(39.30,254.10) scale(1,1.065)" text-anchor="end">0.0</text>
<text transform="translate(39.30,206.90) scale(1,1.065)" text-anchor="end">0.2</text>
<text transform="translate(39.30,159.70) scale(1,1.065)" text-anchor="end">0.4</text>
<text transform="translate(39.30,112.50) scale(1,1.065)" text-anchor="end">0.6</text>
<text transform="translate(39.30,65.30) scale(1,1.065)" text-anchor="end">0.8</text>
<text transform="translate(39.30,18.10) scale(1,1.065)" text-anchor="end">1.0</text>
<text transform="translate(255.20,300.10) scale(1,1.065)" text-anchor="middle">u</text>
<text transform="translate(11.6,131.7) rotate(-90) scale(1,1.065)" text-anchor="middle" font-size="12.8">Ω</text>
</g>
<g fill="none" stroke-width="2.15">
<path d="M62.3,76.4 H112.3" stroke="#ff0000" stroke-width="2.45" stroke-dasharray="3.45 3.12"/>
<path d="M62.3,103.45 H112.3" stroke="#800080" stroke-dasharray="7.05 3.4"/>
<path d="M62.3,130.3 H112.3" stroke="#3f7f00" stroke-dasharray="3.1 3.45 7.1 3.45"/>
<path d="M62.5,157.1 H113.9" stroke="#0000ff"/>
<path d="M62.5,184.2 H113.9" stroke="#000000"/>
</g>
<g font-family="Liberation Sans, sans-serif" fill="#000" stroke="#000" stroke-width="0.25">
<text transform="translate(122.3,81.75) scale(1,1.0)" font-size="16.0">Ω</text>
<text x="134.8" y="84.35" font-size="11.6" font-style="italic">R</text>
<text transform="translate(122.3,108.65) scale(1,1.0)" font-size="16.0">Ω</text>
<text x="134.4" y="111.80000000000001" font-size="12.1">BM</text>
<text transform="translate(122.3,135.85) scale(1,1.0)" font-size="16.0">Ω</text>
<text x="134.4" y="139.0" font-size="12.1">DM</text>
<text transform="translate(122.3,162.75) scale(1,1.0)" font-size="16.0">Ω</text>
<text x="134.4" y="165.9" font-size="12.1">BM</text>
<text x="152.9" y="162.75" font-size="15">+</text>
<text transform="translate(162.1,162.75) scale(1,1.0)" font-size="16.0">Ω</text>
<text x="174.9" y="165.9" font-size="12.1">DM</text>
<text transform="translate(122.3,189.45) scale(1,1.0)" font-size="16.0">Ω</text>
<text x="134.4" y="192.6" font-size="12.1">DE</text>
</g>
</svg>
</body></html>
